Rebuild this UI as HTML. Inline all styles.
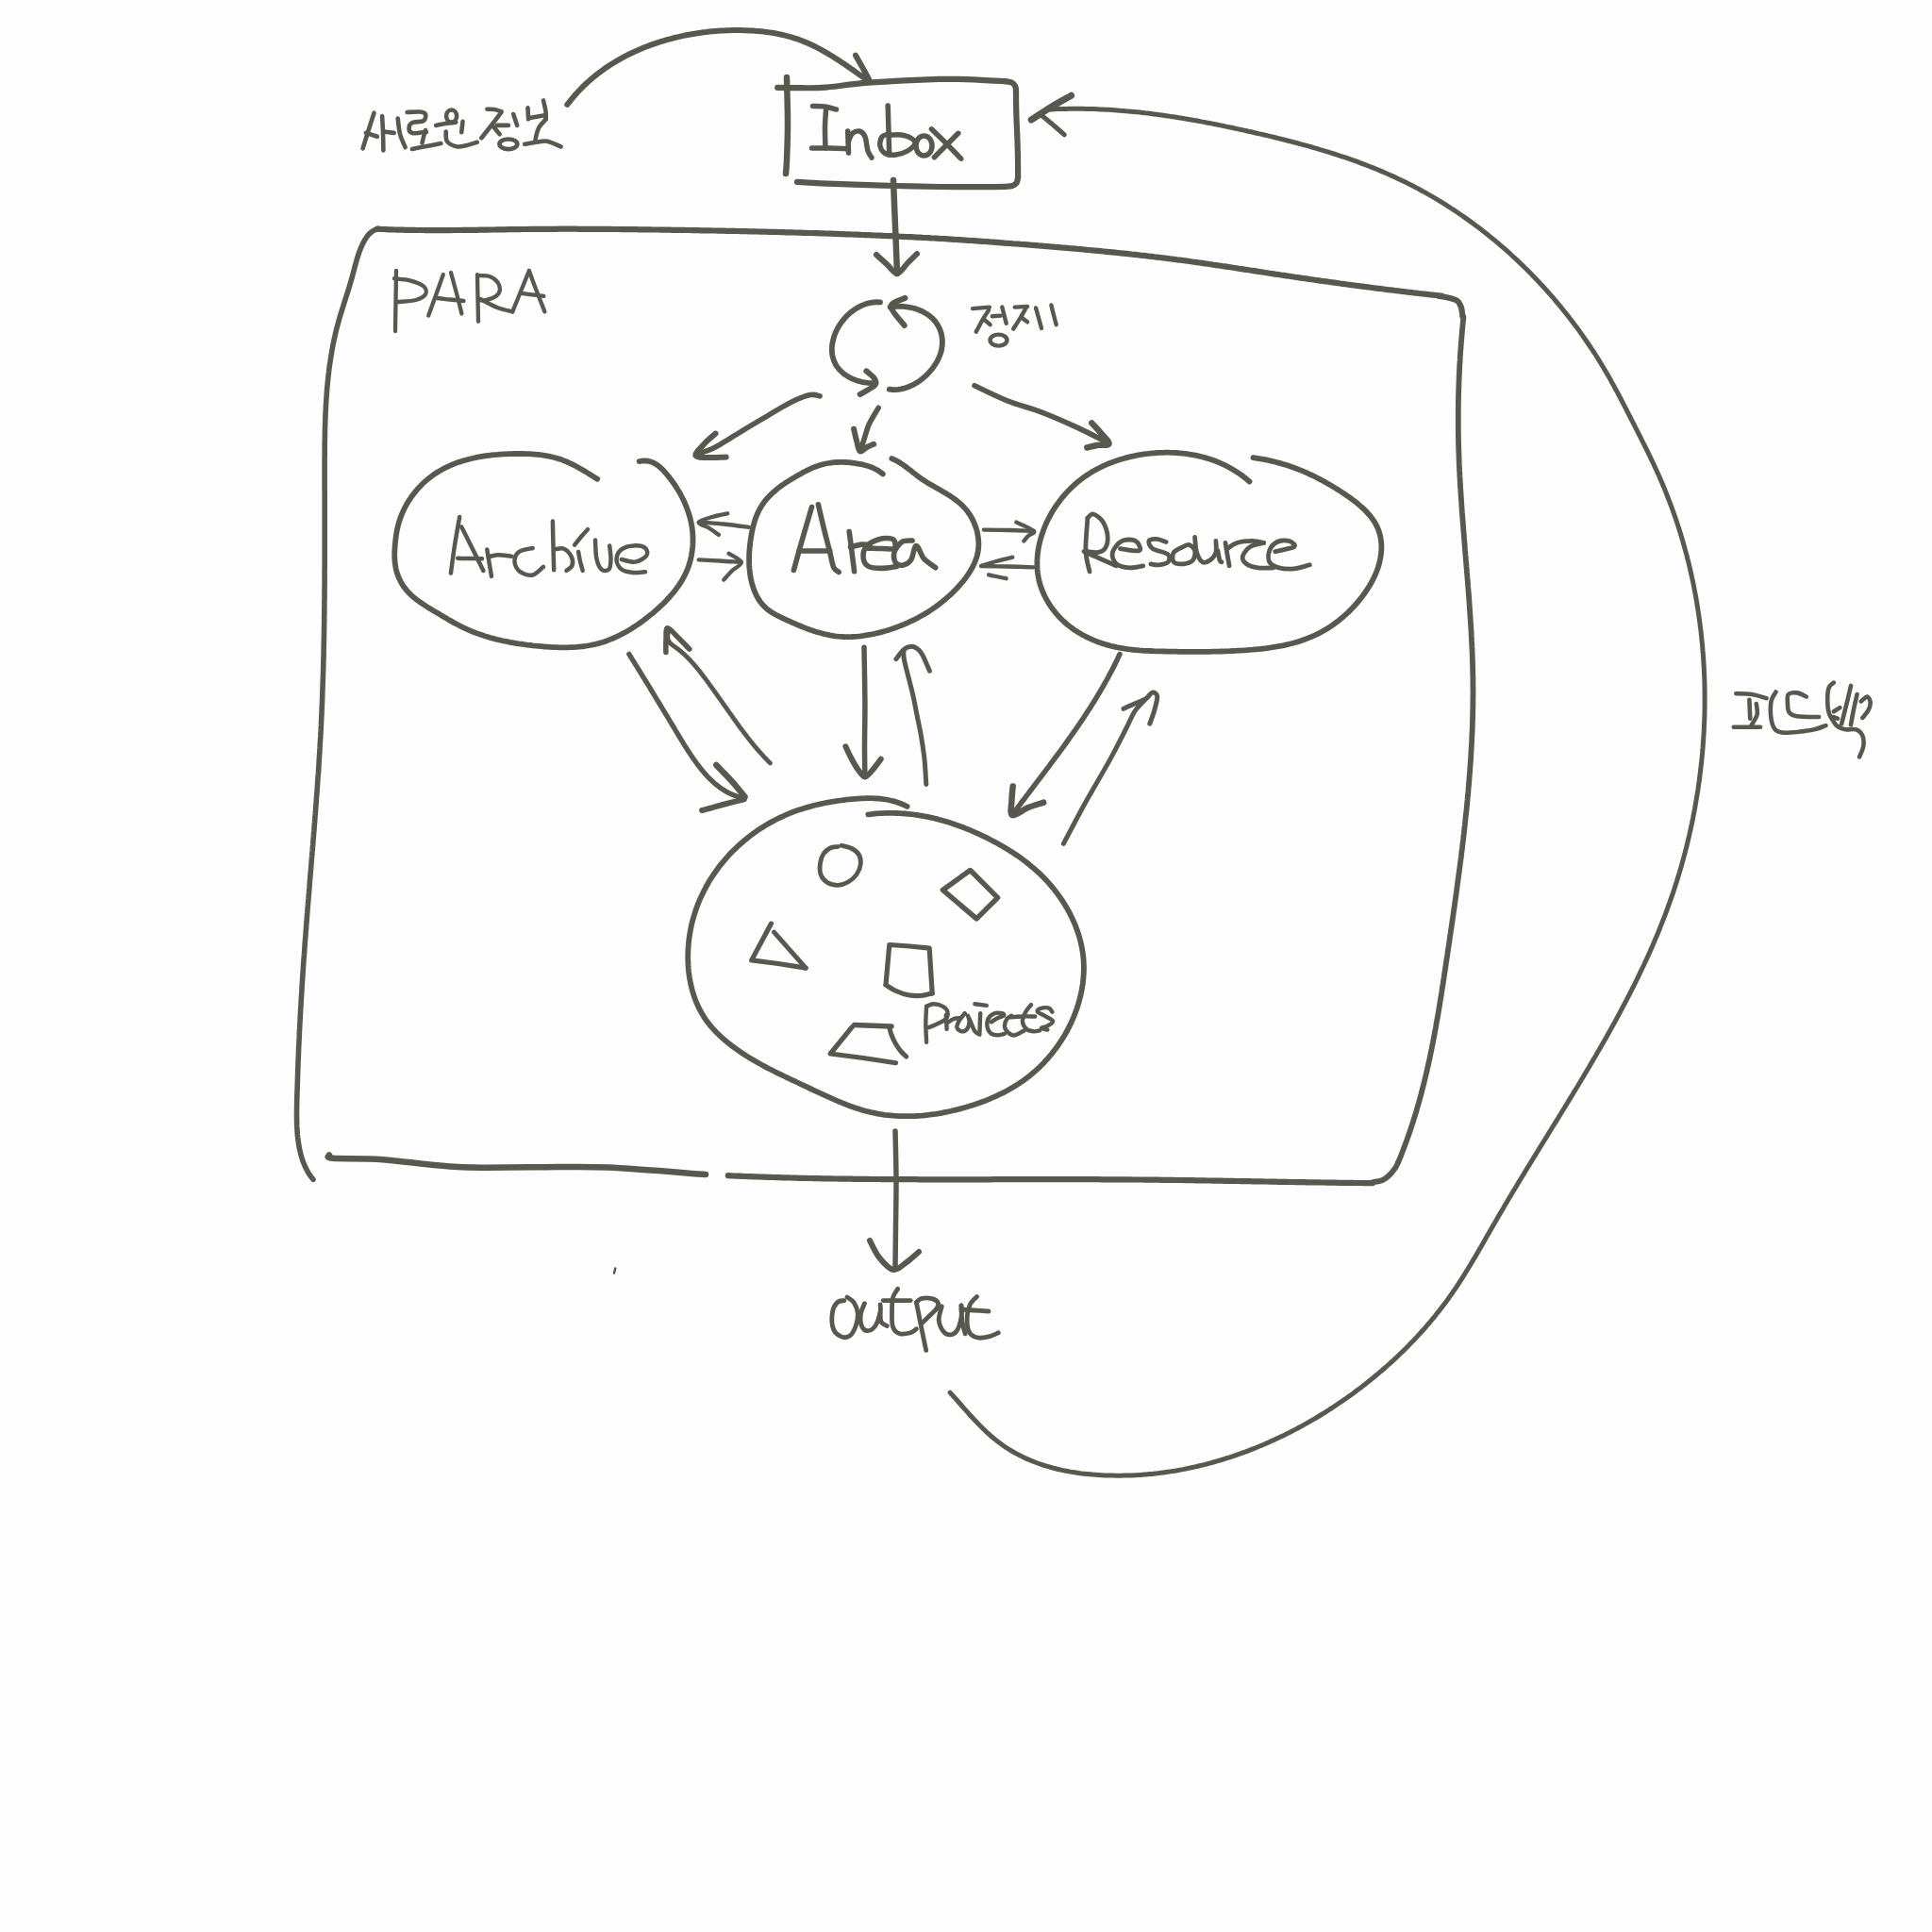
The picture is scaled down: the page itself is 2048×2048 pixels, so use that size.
<!DOCTYPE html>
<html><head><meta charset="utf-8"><title>PARA sketch</title>
<style>
html,body{margin:0;padding:0;background:#fdfdfd;width:2048px;height:2048px;overflow:hidden;font-family:"Liberation Sans",sans-serif;}
svg{display:block;position:absolute;left:0;top:0;}
</style></head>
<body>
<svg width="2048" height="2048" viewBox="0 0 2048 2048">
<g fill="none" stroke="#58584f" stroke-linecap="round" stroke-linejoin="round">
<path d="M824.2,92.9C828.5,93.0 841.4,93.2 850.0,93.2C858.6,93.2 863.9,93.5 875.6,92.6C887.3,91.7 900.5,89.2 920.4,87.7C940.3,86.2 975.0,84.4 994.9,83.9C1014.8,83.4 1028.2,84.4 1040.0,84.8C1051.8,85.2 1061.7,86.0 1066.0,86.2" stroke-width="6.2"/>
<path d="M1066.0,86.2C1067.1,86.4 1070.8,86.7 1072.5,87.5C1074.2,88.3 1075.2,89.6 1076.0,91.0C1076.8,92.4 1076.8,95.2 1077.0,96.0" stroke-width="6.2"/>
<path d="M1077.0,96.0C1077.0,100.0 1077.1,111.4 1077.3,119.8C1077.5,128.2 1078.1,138.1 1078.4,146.5C1078.7,154.9 1078.9,163.1 1079.0,170.0C1079.1,176.9 1079.1,185.0 1079.1,188.0" stroke-width="6.2"/>
<path d="M1079.1,188.0C1078.8,189.0 1078.5,192.5 1077.5,194.0C1076.5,195.5 1074.9,196.4 1073.0,197.0C1071.1,197.6 1067.2,197.7 1066.0,197.8" stroke-width="6.2"/>
<path d="M1066.0,197.8C1060.0,197.9 1041.8,198.2 1030.0,198.2C1018.1,198.2 1008.2,198.2 994.9,198.0C981.6,197.8 964.9,197.4 950.0,197.0C935.1,196.6 918.7,196.1 905.4,195.7C892.1,195.2 880.1,194.8 870.0,194.3C859.9,193.8 849.2,193.1 845.0,192.8" stroke-width="6.2"/>
<path d="M834.0,82.0C834.2,90.3 835.0,117.3 835.0,132.0C835.0,146.7 834.3,161.3 834.0,170.0C833.7,178.7 833.2,181.7 833.0,184.0" stroke-width="6.5"/>
<path d="M861.5,112.5C863.6,112.6 869.8,112.4 874.0,113.0C878.2,113.6 884.4,115.5 886.5,116.0" stroke-width="5.5"/>
<path d="M875.5,117.0C875.3,120.0 874.6,128.3 874.5,135.0C874.4,141.7 874.9,153.3 875.0,157.0" stroke-width="5.5"/>
<path d="M860.5,157.0C863.8,157.0 873.6,156.9 880.0,157.0C886.4,157.1 895.8,157.6 899.0,157.7" stroke-width="5.5"/>
<path d="M898.7,139.0L899.5,162.0" stroke-width="5.5"/>
<path d="M899.5,150.0C900.1,148.7 901.1,143.8 903.0,142.0C904.9,140.2 908.7,138.5 911.0,139.0C913.3,139.5 915.5,141.5 917.0,145.0C918.5,148.5 918.8,156.3 920.0,160.0C921.2,163.7 923.3,165.8 924.0,167.0" stroke-width="5.5"/>
<path d="M941.2,112.0C941.3,116.7 941.8,131.3 942.0,140.0C942.2,148.7 942.6,160.0 942.7,164.0" stroke-width="5.5"/>
<path d="M943.0,142.0C941.7,142.5 936.7,142.8 935.0,145.0C933.3,147.2 932.3,152.0 933.0,155.0C933.7,158.0 936.2,161.5 939.0,163.0C941.8,164.5 946.2,164.5 950.0,164.0C953.8,163.5 958.7,162.0 962.0,160.0C965.3,158.0 969.5,154.3 970.0,152.0C970.5,149.7 967.5,147.5 965.0,146.0C962.5,144.5 958.3,143.5 955.0,143.0C951.7,142.5 946.7,143.0 945.0,143.0" stroke-width="5.5"/>
<path d="M987.4,136.8C990.0,139.3 997.8,146.8 1003.0,152.0C1008.2,157.2 1016.1,165.5 1018.7,168.2" stroke-width="5.5"/>
<path d="M1015.8,141.3C1013.7,143.4 1007.2,149.8 1003.0,154.0C998.8,158.2 992.5,164.6 990.4,166.7" stroke-width="5.5"/>
<path d="M601.3,110.9L603.2,108.5L605.1,106.1L607.0,103.8L608.9,101.5L610.9,99.2L613.0,97.0L615.1,94.8L617.2,92.6L619.3,90.5L621.5,88.5L623.7,86.4L626.0,84.4L628.3,82.5L630.6,80.6L633.0,78.7L635.4,76.9L637.8,75.1L640.2,73.3L642.7,71.6L645.2,69.9L647.7,68.3L650.3,66.7L652.9,65.1L655.5,63.6L658.1,62.1L660.8,60.6L663.5,59.2L666.2,57.8L668.9,56.5L671.7,55.2L674.5,53.9L677.3,52.7L680.1,51.5L682.9,50.3L685.8,49.2L688.6,48.1L691.5,47.1L694.4,46.1L697.3,45.1L700.3,44.2L703.2,43.3L706.2,42.4L709.1,41.6L712.1,40.8L715.1,40.0L718.1,39.3L721.1,38.6L724.2,37.9L727.2,37.3L730.2,36.7L733.3,36.2L736.3,35.7L739.4,35.2L742.5,34.8L745.5,34.3L748.6,34.0L751.7,33.6L754.7,33.3L757.8,33.0L760.9,32.8L764.0,32.6L767.0,32.4L770.1,32.3L773.2,32.2L776.2,32.1L779.3,32.1L782.4,32.1L785.4,32.1L788.5,32.2L791.5,32.3L794.5,32.4L797.6,32.5L800.6,32.8L803.6,33.0L806.6,33.3L809.6,33.6L812.6,34.0L815.5,34.4L818.5,34.8L821.4,35.3L824.4,35.9L827.3,36.5L830.2,37.2L833.1,37.9L836.0,38.6L838.9,39.4L841.7,40.3L844.5,41.2L847.4,42.2L850.2,43.3L852.9,44.4L855.7,45.5L858.5,46.8L861.2,48.0L863.9,49.3L866.6,50.7L869.3,52.1L872.0,53.6L874.6,55.1L877.3,56.6L879.9,58.2L882.5,59.8L885.1,61.5L887.7,63.1L890.3,64.8L892.9,66.6L895.5,68.3L898.0,70.0L900.6,71.8L903.1,73.6L905.6,75.3L908.2,77.1L910.7,78.9L913.2,80.6L915.7,82.4L918.3,84.1L920.8,85.8" stroke-width="6"/>
<path d="M907.0,58.7C908.2,60.8 911.6,66.8 914.0,71.0C916.4,75.2 919.9,82.0 921.1,84.2" stroke-width="6"/>
<path d="M947.0,191.0C947.3,199.2 948.3,223.5 949.0,240.0C949.7,256.5 950.7,281.7 951.0,290.0" stroke-width="6.5"/>
<path d="M929.0,270.0C930.8,271.7 936.3,276.7 940.0,280.0C943.7,283.3 947.3,290.2 951.0,290.0C954.7,289.8 958.5,282.5 962.0,279.0C965.5,275.5 970.3,270.7 972.0,269.0" stroke-width="6"/>
<path d="M400.0,242.7L403.0,242.9L406.0,243.0L409.0,243.1L412.0,243.3L415.1,243.4L418.1,243.5L421.1,243.6L424.1,243.6L427.1,243.7L430.1,243.8L433.1,243.8L436.1,243.9L439.2,243.9L442.2,244.0L445.2,244.0L448.2,244.0L451.2,244.1L454.2,244.1L457.2,244.1L460.2,244.1L463.2,244.1L466.3,244.1L469.3,244.1L472.3,244.1L475.3,244.1L478.3,244.1L481.3,244.0L484.3,244.0L487.3,244.0L490.3,243.9L493.3,243.9L496.4,243.9L499.4,243.8L502.4,243.8L505.4,243.8L508.4,243.7L511.4,243.7L514.4,243.6L517.4,243.6L520.4,243.5L523.4,243.5L526.4,243.4L529.5,243.4L532.5,243.3L535.5,243.3L538.5,243.2L541.5,243.2L544.5,243.1L547.5,243.1L550.5,243.1L553.5,243.0L556.5,243.0L559.5,243.0L562.5,242.9L565.6,242.9L568.6,242.9L571.6,242.8L574.6,242.8L577.6,242.8L580.6,242.8L583.6,242.8L586.6,242.8L589.6,242.8L592.6,242.7L595.6,242.7L598.6,242.7L601.6,242.7L604.7,242.7L607.7,242.7L610.7,242.7L613.7,242.8L616.7,242.8L619.7,242.8L622.7,242.8L625.7,242.8L628.7,242.8L631.7,242.8L634.7,242.8L637.7,242.9L640.8,242.9L643.8,242.9L646.8,242.9L649.8,243.0L652.8,243.0L655.8,243.0L658.8,243.1L661.8,243.1L664.8,243.1L667.8,243.1L670.8,243.2L673.9,243.2L676.9,243.3L679.9,243.3L682.9,243.3L685.9,243.4L688.9,243.4L691.9,243.5L694.9,243.5L697.9,243.5L700.9,243.6L704.0,243.6L707.0,243.7L710.0,243.7L713.0,243.8L716.0,243.8L719.0,243.9L722.0,243.9L725.0,243.9L728.0,244.0L731.1,244.0L734.1,244.1L737.1,244.1L740.1,244.2L743.1,244.3L746.1,244.3L749.1,244.4L752.1,244.4L755.1,244.5L758.2,244.5L761.2,244.6L764.2,244.6L767.2,244.7L770.2,244.8L773.2,244.8L776.2,244.9L779.2,244.9L782.3,245.0L785.3,245.1L788.3,245.1L791.3,245.2L794.3,245.3L797.3,245.3L800.3,245.4L803.3,245.5L806.4,245.6L809.4,245.6L812.4,245.7L815.4,245.8L818.4,245.9L821.4,245.9L824.4,246.0L827.4,246.1L830.4,246.2L833.5,246.3L836.5,246.3L839.5,246.4L842.5,246.5L845.5,246.6L848.5,246.7L851.5,246.8L854.5,246.9L857.5,247.0L860.6,247.0L863.6,247.1L866.6,247.2L869.6,247.3L872.6,247.4L875.6,247.5L878.6,247.6L881.6,247.7L884.6,247.8L887.7,247.9L890.7,248.1L893.7,248.2L896.7,248.3L899.7,248.4L902.7,248.5L905.7,248.6L908.7,248.7L911.7,248.8L914.7,249.0L917.7,249.1L920.7,249.2L923.8,249.3L926.8,249.5L929.8,249.6L932.8,249.7L935.8,249.8L938.8,250.0L941.8,250.1L944.8,250.2L947.8,250.4L950.8,250.5L953.8,250.7L956.8,250.8L959.8,251.0L962.8,251.1L965.8,251.2L968.8,251.4L971.8,251.6L974.9,251.7L977.9,251.9L980.9,252.0L983.9,252.2L986.9,252.4L989.9,252.5L992.9,252.7L995.9,252.9L998.9,253.0L1001.9,253.2L1004.9,253.4L1007.9,253.6L1010.9,253.8L1013.9,254.0L1016.9,254.2L1019.9,254.4L1022.9,254.6L1025.9,254.8L1028.9,255.0L1031.9,255.2L1034.9,255.4L1037.9,255.6L1040.9,255.8L1043.9,256.0L1046.9,256.2L1049.9,256.5L1052.9,256.7L1055.9,256.9L1058.9,257.1L1061.9,257.3L1064.9,257.6L1067.9,257.8L1070.9,258.0L1073.9,258.3L1076.9,258.5L1079.9,258.7L1082.9,259.0L1085.9,259.2L1088.9,259.4L1091.9,259.7L1094.9,259.9L1097.9,260.1L1100.9,260.4L1103.9,260.6L1106.9,260.9L1109.9,261.1L1112.9,261.4L1115.9,261.6L1118.9,261.9L1121.9,262.1L1124.9,262.4L1127.9,262.6L1130.9,262.9L1133.9,263.2L1136.9,263.4L1139.9,263.7L1142.9,264.0L1145.9,264.2L1148.9,264.5L1151.9,264.8L1154.9,265.0L1157.9,265.3L1160.9,265.6L1163.9,265.9L1166.9,266.2L1169.9,266.5L1172.9,266.8L1175.9,267.1L1178.9,267.4L1181.9,267.7L1184.9,268.0L1187.9,268.3L1190.9,268.6L1193.9,268.9L1196.9,269.2L1199.9,269.6L1202.9,269.9L1205.9,270.2L1208.9,270.6L1211.8,270.9L1214.8,271.2L1217.8,271.6L1220.8,271.9L1223.8,272.3L1226.8,272.6L1229.8,273.0L1232.8,273.4L1235.8,273.7L1238.8,274.1L1241.7,274.5L1244.7,274.9L1247.7,275.3L1250.7,275.6L1253.7,276.0L1256.7,276.4L1259.6,276.8L1262.6,277.3L1265.6,277.7L1268.6,278.1L1271.6,278.5L1274.5,278.9L1277.5,279.4L1280.5,279.8L1283.5,280.2L1286.5,280.7L1289.4,281.1L1292.4,281.5L1295.4,282.0L1298.4,282.4L1301.3,282.9L1304.3,283.3L1307.3,283.8L1310.3,284.2L1313.3,284.7L1316.2,285.1L1319.2,285.6L1322.2,286.0L1325.2,286.5L1328.1,286.9L1331.1,287.4L1334.1,287.9L1337.1,288.3L1340.0,288.8L1343.0,289.2L1346.0,289.7L1349.0,290.1L1351.9,290.6L1354.9,291.0L1357.9,291.5L1360.9,291.9L1363.8,292.4L1366.8,292.8L1369.8,293.2L1372.8,293.7L1375.8,294.1L1378.7,294.6L1381.7,295.0L1384.7,295.4L1387.7,295.9L1390.6,296.3L1393.6,296.7L1396.6,297.1L1399.6,297.6L1402.6,298.0L1405.6,298.4L1408.5,298.8L1411.5,299.2L1414.5,299.6L1417.5,300.0L1420.5,300.5L1423.4,300.9L1426.4,301.3L1429.4,301.7L1432.4,302.1L1435.4,302.5L1438.4,302.9L1441.4,303.2L1444.3,303.6L1447.3,304.0L1450.3,304.4L1453.3,304.8L1456.3,305.2L1459.3,305.6L1462.3,305.9L1465.2,306.3L1468.2,306.7L1471.2,307.1L1474.2,307.4L1477.2,307.8L1480.2,308.2L1483.2,308.5L1486.2,308.9L1489.2,309.2L1492.2,309.6L1495.1,309.9L1498.1,310.3L1501.1,310.6L1504.1,311.0L1507.1,311.3L1510.1,311.7L1513.1,312.0L1516.1,312.4L1519.1,312.7L1522.1,313.0L1525.1,313.4L1528.1,313.7" stroke-width="6.2"/>
<path d="M1525.0,313.7C1527.0,314.1 1533.7,315.1 1537.0,316.0C1540.3,316.9 1543.0,317.3 1545.0,319.0C1547.0,320.7 1548.1,323.2 1549.0,326.0C1549.9,328.8 1550.2,334.3 1550.5,336.0" stroke-width="6.2"/>
<path d="M1551.4,336.0L1551.1,339.0L1550.8,342.0L1550.5,345.0L1550.2,348.0L1549.9,351.1L1549.7,354.1L1549.4,357.1L1549.2,360.1L1548.9,363.1L1548.7,366.1L1548.5,369.1L1548.2,372.2L1548.0,375.2L1547.8,378.2L1547.7,381.2L1547.5,384.2L1547.3,387.2L1547.1,390.2L1547.0,393.3L1546.9,396.3L1546.7,399.3L1546.6,402.3L1546.5,405.3L1546.4,408.3L1546.3,411.3L1546.2,414.4L1546.1,417.4L1546.0,420.4L1546.0,423.4L1545.9,426.4L1545.9,429.4L1545.8,432.4L1545.8,435.5L1545.8,438.5L1545.8,441.5L1545.8,444.5L1545.8,447.5L1545.8,450.5L1545.8,453.5L1545.8,456.5L1545.9,459.6L1545.9,462.6L1546.0,465.6L1546.0,468.6L1546.1,471.6L1546.2,474.6L1546.3,477.6L1546.4,480.6L1546.5,483.7L1546.6,486.7L1546.7,489.7L1546.8,492.7L1547.0,495.7L1547.1,498.7L1547.3,501.7L1547.4,504.7L1547.6,507.7L1547.8,510.8L1547.9,513.8L1548.1,516.8L1548.3,519.8L1548.5,522.8L1548.7,525.8L1548.9,528.8L1549.1,531.8L1549.3,534.8L1549.5,537.8L1549.7,540.8L1549.9,543.8L1550.2,546.9L1550.4,549.9L1550.6,552.9L1550.9,555.9L1551.1,558.9L1551.3,561.9L1551.6,564.9L1551.8,567.9L1552.1,570.9L1552.3,573.9L1552.6,576.9L1552.8,579.9L1553.0,583.0L1553.3,586.0L1553.5,589.0L1553.8,592.0L1554.0,595.0L1554.3,598.0L1554.5,601.0L1554.8,604.0L1555.0,607.0L1555.3,610.0L1555.5,613.0L1555.8,616.0L1556.0,619.0L1556.2,622.0L1556.5,625.0L1556.7,628.1L1556.9,631.1L1557.2,634.1L1557.4,637.1L1557.6,640.1L1557.8,643.1L1558.0,646.1L1558.2,649.1L1558.4,652.1L1558.6,655.1L1558.8,658.1L1559.0,661.1L1559.2,664.1L1559.4,667.1L1559.6,670.2L1559.7,673.2L1559.9,676.2L1560.0,679.2L1560.2,682.2L1560.3,685.2L1560.5,688.2L1560.6,691.2L1560.7,694.2L1560.8,697.2L1560.9,700.2L1561.0,703.2L1561.1,706.2L1561.2,709.3L1561.2,712.3L1561.3,715.3L1561.4,718.3L1561.4,721.3L1561.4,724.3L1561.4,727.3L1561.5,730.3L1561.5,733.3L1561.5,736.3L1561.4,739.3L1561.4,742.4L1561.4,745.4L1561.3,748.4L1561.3,751.4L1561.2,754.4L1561.2,757.4L1561.1,760.4L1561.0,763.4L1560.9,766.4L1560.8,769.4L1560.7,772.5L1560.6,775.5L1560.4,778.5L1560.3,781.5L1560.2,784.5L1560.0,787.5L1559.9,790.5L1559.7,793.5L1559.5,796.5L1559.3,799.5L1559.2,802.6L1559.0,805.6L1558.8,808.6L1558.5,811.6L1558.3,814.6L1558.1,817.6L1557.9,820.6L1557.6,823.6L1557.4,826.6L1557.2,829.6L1556.9,832.6L1556.6,835.7L1556.4,838.7L1556.1,841.7L1555.8,844.7L1555.6,847.7L1555.3,850.7L1555.0,853.7L1554.7,856.7L1554.4,859.7L1554.1,862.7L1553.7,865.7L1553.4,868.7L1553.1,871.7L1552.8,874.8L1552.4,877.8L1552.1,880.8L1551.8,883.8L1551.4,886.8L1551.1,889.8L1550.7,892.8L1550.3,895.8L1550.0,898.8L1549.6,901.8L1549.2,904.8L1548.9,907.8L1548.5,910.8L1548.1,913.8L1547.7,916.8L1547.3,919.8L1546.9,922.8L1546.5,925.8L1546.1,928.8L1545.7,931.8L1545.3,934.8L1544.9,937.8L1544.5,940.8L1544.1,943.8L1543.7,946.8L1543.3,949.8L1542.9,952.8L1542.4,955.8L1542.0,958.8L1541.6,961.8L1541.2,964.8L1540.7,967.8L1540.3,970.8L1539.9,973.8L1539.4,976.8L1539.0,979.8L1538.6,982.8L1538.1,985.7L1537.7,988.7L1537.2,991.7L1536.8,994.7L1536.4,997.7L1535.9,1000.7L1535.5,1003.7L1535.0,1006.7L1534.6,1009.7L1534.2,1012.7L1533.7,1015.6L1533.3,1018.6L1532.8,1021.6L1532.4,1024.6L1531.9,1027.6L1531.5,1030.6L1531.0,1033.5L1530.6,1036.5L1530.1,1039.5L1529.7,1042.5L1529.2,1045.5L1528.7,1048.4L1528.3,1051.4L1527.8,1054.4L1527.3,1057.4L1526.8,1060.3L1526.4,1063.3L1525.9,1066.3L1525.4,1069.3L1524.9,1072.2L1524.4,1075.2L1523.9,1078.2L1523.3,1081.1L1522.8,1084.1L1522.3,1087.0L1521.8,1090.0L1521.2,1093.0L1520.7,1095.9L1520.1,1098.9L1519.5,1101.8L1519.0,1104.8L1518.4,1107.7L1517.8,1110.7L1517.2,1113.6L1516.6,1116.5L1516.0,1119.5L1515.4,1122.4L1514.7,1125.4L1514.1,1128.3L1513.4,1131.2L1512.8,1134.2L1512.1,1137.1L1511.4,1140.0L1510.7,1142.9L1510.0,1145.9L1509.3,1148.8L1508.5,1151.7L1507.8,1154.6L1507.0,1157.5L1506.3,1160.4L1505.5,1163.3L1504.7,1166.2L1503.9,1169.1L1503.0,1172.0L1502.2,1174.9L1501.4,1177.8L1500.5,1180.7L1499.6,1183.6L1498.7,1186.5L1497.8,1189.4L1496.9,1192.2L1495.9,1195.1L1495.0,1198.0L1494.0,1200.9L1493.0,1203.7L1492.0,1206.6L1491.0,1209.4L1489.9,1212.3L1488.9,1215.1L1487.8,1218.0L1486.7,1220.8L1485.6,1223.7L1484.5,1226.5L1483.3,1229.4L1482.2,1232.2" stroke-width="5.8"/>
<path d="M1482.0,1232.0C1481.5,1233.1 1480.5,1236.1 1478.8,1238.5C1477.1,1240.9 1474.3,1244.4 1472.0,1246.5C1469.7,1248.6 1467.7,1250.2 1464.9,1251.3C1462.1,1252.4 1456.7,1252.9 1455.0,1253.2" stroke-width="5.8"/>
<path d="M1455.0,1254.2L1452.0,1254.1L1449.0,1254.1L1445.9,1254.1L1442.9,1254.0L1439.9,1254.0L1436.9,1254.0L1433.9,1253.9L1430.8,1253.9L1427.8,1253.9L1424.8,1253.8L1421.8,1253.8L1418.8,1253.8L1415.7,1253.7L1412.7,1253.7L1409.7,1253.6L1406.7,1253.6L1403.7,1253.5L1400.6,1253.5L1397.6,1253.4L1394.6,1253.4L1391.6,1253.4L1388.6,1253.3L1385.5,1253.3L1382.5,1253.2L1379.5,1253.2L1376.5,1253.1L1373.4,1253.1L1370.4,1253.0L1367.4,1253.0L1364.4,1252.9L1361.4,1252.9L1358.3,1252.8L1355.3,1252.8L1352.3,1252.7L1349.3,1252.6L1346.3,1252.6L1343.2,1252.5L1340.2,1252.5L1337.2,1252.4L1334.2,1252.4L1331.1,1252.3L1328.1,1252.3L1325.1,1252.2L1322.1,1252.2L1319.1,1252.1L1316.0,1252.1L1313.0,1252.0L1310.0,1252.0L1307.0,1251.9L1303.9,1251.9L1300.9,1251.8L1297.9,1251.8L1294.9,1251.7L1291.9,1251.7L1288.8,1251.6L1285.8,1251.6L1282.8,1251.5L1279.8,1251.5L1276.7,1251.4L1273.7,1251.4L1270.7,1251.3L1267.7,1251.3L1264.7,1251.2L1261.6,1251.2L1258.6,1251.1L1255.6,1251.1L1252.6,1251.0L1249.5,1251.0L1246.5,1251.0L1243.5,1250.9L1240.5,1250.9L1237.5,1250.8L1234.4,1250.8L1231.4,1250.8L1228.4,1250.7L1225.4,1250.7L1222.3,1250.7L1219.3,1250.6L1216.3,1250.6L1213.3,1250.6L1210.2,1250.5L1207.2,1250.5L1204.2,1250.5L1201.2,1250.5L1198.1,1250.4L1195.1,1250.4L1192.1,1250.4L1189.1,1250.4L1186.1,1250.3L1183.0,1250.3L1180.0,1250.3L1177.0,1250.3L1174.0,1250.3L1170.9,1250.3L1167.9,1250.3L1164.9,1250.2L1161.9,1250.2L1158.8,1250.2L1155.8,1250.2L1152.8,1250.2L1149.8,1250.2L1146.7,1250.2L1143.7,1250.2L1140.7,1250.2L1137.7,1250.2L1134.6,1250.2L1131.6,1250.2L1128.6,1250.2L1125.6,1250.2L1122.5,1250.2L1119.5,1250.2L1116.5,1250.2L1113.5,1250.2L1110.5,1250.2L1107.4,1250.2L1104.4,1250.2L1101.4,1250.2L1098.4,1250.2L1095.3,1250.2L1092.3,1250.2L1089.3,1250.2L1086.3,1250.2L1083.2,1250.2L1080.2,1250.2L1077.2,1250.2L1074.2,1250.2L1071.1,1250.2L1068.1,1250.2L1065.1,1250.2L1062.1,1250.2L1059.0,1250.2L1056.0,1250.2L1053.0,1250.2L1050.0,1250.3L1046.9,1250.3L1043.9,1250.3L1040.9,1250.3L1037.9,1250.3L1034.8,1250.3L1031.8,1250.3L1028.8,1250.3L1025.8,1250.3L1022.7,1250.3L1019.7,1250.3L1016.7,1250.3L1013.7,1250.3L1010.6,1250.3L1007.6,1250.3L1004.6,1250.3L1001.6,1250.3L998.6,1250.3L995.5,1250.3L992.5,1250.3L989.5,1250.3L986.5,1250.3L983.4,1250.3L980.4,1250.3L977.4,1250.3L974.4,1250.3L971.3,1250.2L968.3,1250.2L965.3,1250.2L962.3,1250.2L959.2,1250.2L956.2,1250.2L953.2,1250.2L950.2,1250.2L947.1,1250.1L944.1,1250.1L941.1,1250.1L938.1,1250.1L935.0,1250.1L932.0,1250.0L929.0,1250.0L926.0,1250.0L923.0,1250.0L919.9,1249.9L916.9,1249.9L913.9,1249.9L910.9,1249.8L907.8,1249.8L904.8,1249.8L901.8,1249.7L898.8,1249.7L895.7,1249.7L892.7,1249.6L889.7,1249.6L886.7,1249.5L883.6,1249.5L880.6,1249.4L877.6,1249.4L874.6,1249.3L871.6,1249.3L868.5,1249.2L865.5,1249.1L862.5,1249.1L859.5,1249.0L856.4,1249.0L853.4,1248.9L850.4,1248.8L847.4,1248.8L844.3,1248.7L841.3,1248.6L838.3,1248.5L835.3,1248.4L832.3,1248.4L829.2,1248.3L826.2,1248.2L823.2,1248.1L820.2,1248.0L817.1,1247.9L814.1,1247.8L811.1,1247.7L808.1,1247.6L805.0,1247.5L802.0,1247.4L799.0,1247.3L796.0,1247.2L793.0,1247.1L789.9,1247.0L786.9,1246.8L783.9,1246.7L780.9,1246.6L777.9,1246.5L774.8,1246.3L771.8,1246.2" stroke-width="6.2"/>
<path d="M401.3,242.4L398.3,243.3L395.5,244.7L393.1,246.4L391.0,248.3L389.2,250.6L387.5,253.0L386.0,255.6L384.6,258.2L383.4,260.9L382.2,263.6L381.1,266.4L380.1,269.2L379.2,272.1L378.3,275.0L377.5,277.9L376.7,280.8L375.9,283.8L375.1,286.7L374.3,289.7L373.6,292.6L372.7,295.6L371.9,298.5L371.0,301.4L370.2,304.3L369.3,307.2L368.4,310.1L367.4,313.0L366.5,315.9L365.6,318.8L364.7,321.7L363.8,324.5L362.9,327.4L362.0,330.3L361.1,333.2L360.2,336.1L359.4,339.0L358.6,341.9L357.8,344.8L357.0,347.7L356.3,350.6L355.6,353.5L355.0,356.4L354.3,359.3L353.7,362.3L353.1,365.2L352.5,368.1L352.0,371.1L351.5,374.0L351.0,377.0L350.5,379.9L350.1,382.9L349.6,385.9L349.2,388.8L348.8,391.8L348.5,394.8L348.1,397.8L347.8,400.8L347.5,403.7L347.2,406.7L346.9,409.7L346.6,412.7L346.4,415.7L346.2,418.7L346.0,421.7L345.8,424.7L345.6,427.8L345.4,430.8L345.3,433.8L345.1,436.8L345.0,439.8L344.9,442.8L344.8,445.9L344.7,448.9L344.6,451.9L344.5,454.9L344.4,458.0L344.4,461.0L344.3,464.0L344.3,467.1L344.2,470.1L344.2,473.1L344.2,476.2L344.2,479.2L344.2,482.2L344.1,485.3L344.1,488.3L344.1,491.3L344.1,494.4L344.1,497.4L344.1,500.4L344.1,503.5L344.1,506.5L344.1,509.5L344.1,512.6L344.1,515.6L344.1,518.6L344.2,521.6L344.2,524.7L344.2,527.7L344.2,530.7L344.2,533.8L344.2,536.8L344.2,539.8L344.2,542.8L344.2,545.9L344.2,548.9L344.2,551.9L344.2,554.9L344.2,558.0L344.2,561.0L344.2,564.0L344.2,567.0L344.2,570.0L344.2,573.1L344.2,576.1L344.2,579.1L344.2,582.1L344.2,585.1L344.2,588.2L344.2,591.2L344.2,594.2L344.2,597.2L344.2,600.2L344.1,603.2L344.1,606.3L344.1,609.3L344.1,612.3L344.1,615.3L344.1,618.3L344.1,621.3L344.0,624.4L344.0,627.4L344.0,630.4L344.0,633.4L343.9,636.4L343.9,639.4L343.9,642.4L343.8,645.5L343.8,648.5L343.8,651.5L343.7,654.5L343.7,657.5L343.7,660.5L343.6,663.5L343.6,666.5L343.5,669.5L343.5,672.6L343.4,675.6L343.4,678.6L343.3,681.6L343.2,684.6L343.2,687.6L343.1,690.6L343.1,693.6L343.0,696.6L342.9,699.6L342.8,702.7L342.8,705.7L342.7,708.7L342.6,711.7L342.5,714.7L342.4,717.7L342.3,720.7L342.2,723.7L342.1,726.7L342.0,729.7L341.9,732.7L341.8,735.8L341.7,738.8L341.6,741.8L341.5,744.8L341.3,747.8L341.2,750.8L341.1,753.8L341.0,756.8L340.8,759.8L340.7,762.8L340.5,765.8L340.4,768.9L340.2,771.9L340.1,774.9L339.9,777.9L339.8,780.9L339.6,783.9L339.4,786.9L339.2,789.9L339.1,792.9L338.9,795.9L338.7,799.0L338.5,802.0L338.3,805.0L338.1,808.0L338.0,811.0L337.8,814.0L337.6,817.0L337.4,820.0L337.1,823.0L336.9,826.0L336.7,829.1L336.5,832.1L336.3,835.1L336.1,838.1L335.9,841.1L335.6,844.1L335.4,847.1L335.2,850.1L335.0,853.1L334.7,856.2L334.5,859.2L334.3,862.2L334.0,865.2L333.8,868.2L333.6,871.2L333.3,874.2L333.1,877.2L332.9,880.2L332.6,883.2L332.4,886.3L332.1,889.3L331.9,892.3L331.7,895.3L331.4,898.3L331.2,901.3L330.9,904.3L330.7,907.3L330.4,910.3L330.2,913.4L329.9,916.4L329.7,919.4L329.4,922.4L329.2,925.4L328.9,928.4L328.7,931.4L328.4,934.4L328.2,937.4L328.0,940.4L327.7,943.5L327.5,946.5L327.2,949.5L327.0,952.5L326.7,955.5L326.5,958.5L326.2,961.5L326.0,964.5L325.8,967.5L325.5,970.5L325.3,973.6L325.1,976.6L324.8,979.6L324.6,982.6L324.4,985.6L324.1,988.6L323.9,991.6L323.7,994.6L323.4,997.6L323.2,1000.6L323.0,1003.6L322.8,1006.6L322.6,1009.7L322.4,1012.7L322.1,1015.7L321.9,1018.7L321.7,1021.7L321.5,1024.7L321.3,1027.7L321.1,1030.7L320.9,1033.7L320.7,1036.7L320.5,1039.7L320.3,1042.7L320.1,1045.7L320.0,1048.8L319.8,1051.8L319.6,1054.8L319.4,1057.8L319.2,1060.8L319.1,1063.8L318.9,1066.8L318.7,1069.8L318.5,1072.8L318.4,1075.8L318.2,1078.8L318.1,1081.8L317.9,1084.9L317.7,1087.9L317.6,1090.9L317.4,1093.9L317.3,1096.9L317.2,1099.9L317.0,1102.9L316.9,1105.9L316.7,1108.9L316.6,1111.9L316.5,1115.0L316.4,1118.0L316.2,1121.0L316.1,1124.0L316.0,1127.0L315.9,1130.0L315.8,1133.0L315.7,1136.1L315.6,1139.1L315.5,1142.1L315.4,1145.1L315.3,1148.1L315.2,1151.1L315.1,1154.2L315.0,1157.2L314.9,1160.2L314.8,1163.2L314.7,1166.2L314.7,1169.3L314.6,1172.3L314.6,1175.3L314.5,1178.3L314.5,1181.3L314.5,1184.4L314.6,1187.4L314.6,1190.4L314.7,1193.4L314.9,1196.4L315.1,1199.5L315.3,1202.5L315.6,1205.5L316.0,1208.5L316.4,1211.5L316.9,1214.5L317.4,1217.5L318.1,1220.4L318.8,1223.4L319.6,1226.3L320.5,1229.2L321.5,1232.0L322.7,1234.8L323.9,1237.6L325.2,1240.2L326.7,1242.9L328.3,1245.4L330.1,1247.9L332.0,1250.3" stroke-width="5.6"/>
<path d="M349.0,1224.4C349.7,1225.0 343.5,1227.0 353.0,1227.8C362.5,1228.6 383.9,1227.7 406.0,1229.2C428.1,1230.8 459.0,1235.8 485.5,1237.1C512.0,1238.4 538.5,1237.2 565.0,1237.3C591.5,1237.4 614.1,1236.2 644.6,1237.5C675.1,1238.8 730.8,1243.8 748.0,1245.0" stroke-width="6.5"/>
<path d="M420.0,287.0C419.9,292.5 419.7,309.3 419.5,320.0C419.3,330.7 419.1,345.9 419.0,351.1" stroke-width="4.3"/>
<path d="M418.0,295.2C420.8,295.6 429.4,295.9 434.6,297.3C439.8,298.7 446.4,301.1 449.1,303.5C451.9,305.9 452.5,309.4 451.1,311.8C449.7,314.2 445.6,316.6 440.8,318.0C436.0,319.4 425.3,319.7 422.2,320.0" stroke-width="4.3"/>
<path d="M454.2,334.6C455.5,331.0 459.4,320.2 462.0,313.0C464.6,305.8 468.5,294.8 469.8,291.1" stroke-width="4.3"/>
<path d="M478.0,289.0C479.0,292.7 482.1,303.8 484.0,311.0C485.9,318.2 488.5,328.9 489.4,332.5" stroke-width="4.3"/>
<path d="M463.6,316.0C465.8,316.2 472.4,317.0 477.0,317.5C481.6,318.0 489.1,318.8 491.5,319.0" stroke-width="4.3"/>
<path d="M506.0,291.1C506.1,295.2 506.3,307.7 506.5,316.0C506.7,324.3 506.9,336.7 507.0,340.8" stroke-width="4.3"/>
<path d="M507.0,292.1C509.1,292.3 516.0,292.0 519.5,293.2C523.0,294.4 526.0,297.0 527.7,299.4C529.4,301.8 530.1,305.3 529.8,307.7C529.5,310.1 528.1,312.2 525.7,313.9C523.3,315.6 518.4,317.3 515.3,318.0C512.2,318.7 508.4,318.0 507.0,318.0" stroke-width="4.3"/>
<path d="M509.1,317.0C512.2,318.6 522.0,324.1 527.7,326.3C533.4,328.5 540.7,329.7 543.3,330.4" stroke-width="4.3"/>
<path d="M543.3,330.4C544.8,326.8 549.1,316.2 552.0,309.0C554.9,301.8 559.4,290.7 560.9,287.0" stroke-width="4.3"/>
<path d="M560.9,287.0C562.2,290.7 566.2,301.8 569.0,309.0C571.8,316.2 576.0,326.8 577.4,330.4" stroke-width="4.3"/>
<path d="M552.6,310.8C554.5,311.1 560.0,311.8 564.0,312.3C568.0,312.8 574.3,313.6 576.4,313.9" stroke-width="4.3"/>
<path d="M396.5,119.7C395.4,123.1 392.0,133.7 390.0,140.0C388.0,146.3 385.5,154.5 384.6,157.4" stroke-width="4.6"/>
<path d="M387.9,140.9L399.8,144.8" stroke-width="4.6"/>
<path d="M405.1,123.0C405.2,125.8 405.8,133.9 406.0,140.0C406.2,146.1 406.3,156.2 406.4,159.4" stroke-width="4.6"/>
<path d="M406.4,139.5L417.7,140.9" stroke-width="4.6"/>
<path d="M421.7,125.6C422.1,128.3 422.7,136.9 424.0,142.0C425.3,147.1 428.7,153.8 429.6,156.1" stroke-width="4.6"/>
<path d="M431.6,119.0C433.8,118.9 441.8,118.2 445.0,118.5C448.2,118.8 450.3,119.4 451.0,121.0C451.7,122.6 451.3,126.5 449.0,128.0C446.7,129.5 439.6,128.7 437.0,130.0C434.4,131.3 433.5,134.2 433.5,136.0C433.5,137.8 433.9,140.3 437.0,141.0C440.1,141.7 449.5,140.2 452.0,140.0" stroke-width="4.6"/>
<path d="M451.0,138.0C450.7,139.2 449.6,142.8 449.0,145.0C448.4,147.2 447.8,150.4 447.5,151.5" stroke-width="4.6"/>
<path d="M436.9,158.0C439.4,157.5 446.9,156.0 452.0,155.0C457.1,154.0 464.8,152.6 467.4,152.1" stroke-width="4.6"/>
<path d="M462.1,132.9C463.8,132.6 468.5,131.6 472.0,131.0C475.5,130.4 481.4,129.8 483.3,129.6" stroke-width="4.6"/>
<path d="M490.5,128.9L489.2,140.2" stroke-width="4.6"/>
<path d="M472.7,139.5C472.9,141.2 472.0,147.3 474.0,150.0C476.0,152.7 481.1,154.7 484.6,155.4C488.1,156.1 491.5,154.8 495.0,154.0C498.5,153.2 504.0,151.3 505.8,150.8" stroke-width="4.6"/>
<path d="M516.4,115.7C517.7,115.8 521.5,115.6 524.0,116.0C526.5,116.4 530.3,117.9 531.6,118.3" stroke-width="4.6"/>
<path d="M531.0,119.7C529.2,122.1 523.4,129.6 520.0,134.0C516.6,138.4 512.0,144.2 510.4,146.2" stroke-width="4.6"/>
<path d="M523.0,134.2L529.7,142.2" stroke-width="4.6"/>
<path d="M527.0,132.9L538.9,132.9" stroke-width="4.6"/>
<path d="M544.2,121.0L548.2,132.9" stroke-width="4.6"/>
<path d="M559.5,114.4L560.1,126.3" stroke-width="4.6"/>
<path d="M576.0,106.4C576.4,108.3 578.0,114.7 578.5,118.0C579.0,121.3 578.7,124.9 578.7,126.3" stroke-width="4.6"/>
<path d="M561.5,125.0L577.4,122.3" stroke-width="4.6"/>
<path d="M578.7,126.3C577.6,127.6 573.5,131.7 572.0,134.0C570.5,136.3 570.2,137.5 569.4,140.0C568.6,142.5 567.7,147.3 567.4,148.8" stroke-width="4.6"/>
<path d="M556.2,152.8C558.5,152.4 566.0,151.0 570.0,150.5C574.0,150.0 575.9,149.0 580.0,149.8C584.1,150.6 592.2,154.5 594.6,155.4" stroke-width="4.6"/>
<path d="M933.0,320.3L929.6,320.2L926.3,320.5L923.1,320.9L919.9,321.6L916.9,322.6L913.9,323.7L911.0,325.1L908.2,326.6L905.5,328.4L902.9,330.3L900.4,332.3L898.0,334.5L895.8,336.9L893.8,339.3L891.8,341.8L890.0,344.5L888.4,347.2L886.9,350.0L885.6,352.8L884.5,355.7L883.6,358.6L882.9,361.5L882.3,364.4L882.0,367.3L881.8,370.2L881.9,373.0L882.2,375.8L882.8,378.6L883.6,381.2L884.6,383.8L885.8,386.3L887.3,388.6L889.0,390.9L891.0,393.0L893.1,395.0L895.4,396.9L898.0,398.6L900.7,400.2L903.5,401.6L906.6,402.8L909.8,403.9L913.2,404.8L916.6,405.4L920.3,405.9L924.0,406.2L927.9,406.2" stroke-width="5.8"/>
<path d="M918.4,393.4C919.8,394.6 925.1,398.4 926.6,400.9C928.1,403.4 929.9,405.5 927.4,408.4C924.9,411.2 914.3,416.4 911.7,418.0" stroke-width="6"/>
<path d="M959.4,315.9C956.9,317.4 944.6,320.0 944.5,324.9C944.4,329.8 956.3,341.6 958.7,345.0" stroke-width="6"/>
<path d="M943.6,325.5L947.2,325.0L950.8,324.8L954.3,324.7L957.8,324.9L961.2,325.3L964.5,325.8L967.7,326.5L970.9,327.4L973.9,328.5L976.8,329.7L979.6,331.1L982.2,332.7L984.7,334.4L987.0,336.2L989.1,338.2L991.0,340.3L992.7,342.6L994.2,344.9L995.5,347.4L996.6,349.9L997.5,352.6L998.2,355.3L998.6,358.0L998.9,360.8L998.9,363.7L998.7,366.5L998.3,369.4L997.7,372.3L996.8,375.2L995.7,378.0L994.5,380.9L993.0,383.7L991.3,386.4L989.5,389.1L987.6,391.7L985.4,394.2L983.2,396.6L980.8,398.9L978.3,401.0L975.7,403.1L973.0,404.9L970.2,406.6L967.3,408.2L964.3,409.5L961.3,410.7L958.3,411.6L955.2,412.3L952.1,412.8L949.0,413.1L945.9,413.0L942.7,412.7" stroke-width="5.8"/>
<path d="M1031.0,327.1L1048.9,325.6" stroke-width="4.4"/>
<path d="M1048.1,328.6C1046.9,330.5 1043.2,336.1 1041.0,340.0C1038.8,343.9 1035.8,349.8 1034.7,351.7" stroke-width="4.4"/>
<path d="M1042.9,338.3L1049.6,344.2" stroke-width="4.4"/>
<path d="M1051.8,335.3L1060.8,334.6" stroke-width="4.4"/>
<path d="M1062.3,325.6L1066.7,342.8" stroke-width="4.4"/>
<path d="M1075.7,325.6L1089.1,324.9" stroke-width="4.4"/>
<path d="M1087.6,326.4C1086.5,328.3 1083.2,334.3 1081.0,338.0C1078.8,341.7 1075.3,346.9 1074.2,348.7" stroke-width="4.4"/>
<path d="M1083.1,336.8L1089.1,341.3" stroke-width="4.4"/>
<path d="M1098.0,326.4C1098.5,328.2 1100.0,333.4 1101.0,337.0C1102.0,340.6 1103.5,346.2 1104.0,348.0" stroke-width="4.4"/>
<path d="M1114.4,323.4C1114.8,325.2 1116.1,330.5 1117.0,334.0C1117.9,337.5 1119.2,342.5 1119.7,344.2" stroke-width="4.4"/>
<path d="M869.1,419.9C867.4,419.7 864.1,417.6 859.1,418.6C854.1,419.6 848.0,421.8 839.3,426.1C830.6,430.5 816.5,439.1 807.0,444.7C797.5,450.3 790.4,454.6 782.1,459.6C773.8,464.6 763.5,471.2 757.3,474.5C751.1,477.8 747.9,478.2 744.8,479.5C741.7,480.8 739.5,482.0 738.5,482.5" stroke-width="5.6"/>
<path d="M758.5,459.6C756.6,461.3 750.5,466.1 747.0,470.0C743.5,473.9 736.4,480.5 737.4,483.0C738.4,485.5 747.6,484.8 753.0,485.0C758.4,485.2 766.9,484.6 769.7,484.5" stroke-width="6"/>
<path d="M931.2,432.3C929.5,435.2 923.7,444.3 921.2,449.7C918.7,455.1 917.8,460.1 916.3,464.6C914.8,469.2 913.1,474.9 912.5,477.0" stroke-width="5.6"/>
<path d="M905.1,454.7C905.6,456.8 906.9,463.1 908.0,467.0C909.1,470.9 909.7,477.1 911.5,478.3C913.3,479.5 916.5,475.2 919.0,474.0C921.5,472.8 925.0,471.3 926.2,470.8" stroke-width="6"/>
<path d="M1033.0,408.7C1038.8,411.4 1055.8,420.0 1067.8,424.8C1079.8,429.6 1092.7,432.5 1105.1,437.3C1117.5,442.1 1130.8,448.0 1142.4,453.4C1154.0,458.8 1169.3,466.9 1174.7,469.6" stroke-width="5.6"/>
<path d="M1157.3,448.4C1158.9,450.2 1164.0,455.3 1167.0,459.0C1170.0,462.7 1176.2,468.3 1175.5,470.5C1174.8,472.7 1166.9,471.3 1163.0,472.0C1159.1,472.7 1154.1,474.1 1152.3,474.5" stroke-width="6.5"/>
<path d="M633.2,507.8L630.6,506.2L628.1,504.6L625.5,503.0L622.9,501.4L620.3,499.8L617.7,498.2L615.1,496.7L612.4,495.2L609.7,493.8L607.0,492.4L604.3,491.1L601.6,489.8L598.8,488.7L596.0,487.6L593.2,486.6L590.3,485.8L587.5,485.0L584.6,484.3L581.7,483.6L578.8,483.1L575.8,482.6L572.9,482.2L569.9,481.9L566.9,481.6L563.9,481.4L560.9,481.2L557.9,481.1L554.8,481.0L551.8,481.0L548.8,481.0L545.7,481.0L542.6,481.1L539.6,481.1L536.5,481.3L533.4,481.4L530.4,481.6L527.3,481.9L524.3,482.1L521.2,482.4L518.2,482.8L515.1,483.2L512.1,483.7L509.1,484.2L506.1,484.7L503.2,485.3L500.2,486.0L497.3,486.7L494.4,487.5L491.5,488.3L488.6,489.2L485.8,490.1L483.0,491.1L480.2,492.2L477.5,493.4L474.8,494.6L472.1,495.9L469.5,497.2L466.9,498.7L464.3,500.2L461.8,501.8L459.4,503.4L457.0,505.2L454.6,507.0L452.3,508.9L450.0,510.9L447.8,513.0L445.7,515.2L443.6,517.4L441.5,519.7L439.6,522.1L437.7,524.5L435.9,527.0L434.2,529.6L432.5,532.2L430.9,534.8L429.5,537.5L428.1,540.3L426.8,543.1L425.6,545.9L424.5,548.7L423.6,551.6L422.7,554.4L421.9,557.3L421.2,560.3L420.6,563.2L420.1,566.2L419.7,569.2L419.3,572.2L419.0,575.2L418.7,578.3L418.5,581.3L418.3,584.4L418.2,587.5L418.3,590.6L418.4,593.6L418.7,596.7L419.1,599.6L419.6,602.6L420.3,605.5L421.2,608.3L422.2,611.1L423.4,613.8L424.7,616.4L426.2,618.9L427.7,621.4L429.5,623.8L431.3,626.1L433.3,628.3L435.4,630.4L437.6,632.4L439.9,634.3L442.3,636.2L444.8,638.0L447.3,639.7L449.9,641.4L452.5,643.1L455.1,644.7L457.8,646.3L460.5,647.9L463.1,649.5L465.8,651.1L468.4,652.7L471.1,654.3L473.7,655.8L476.4,657.4L479.1,658.9L481.7,660.4L484.4,661.8L487.1,663.2L489.8,664.6L492.5,665.9L495.2,667.1L498.0,668.3L500.7,669.5L503.5,670.6L506.2,671.6L509.0,672.6L511.9,673.6L514.7,674.5L517.5,675.3L520.4,676.2L523.2,676.9L526.1,677.7L529.0,678.4L531.9,679.0L534.8,679.7L537.8,680.2L540.7,680.8L543.7,681.3L546.6,681.8L549.6,682.3L552.6,682.7L555.6,683.2L558.6,683.6L561.7,683.9L564.7,684.3L567.8,684.6L570.8,684.9L573.9,685.2L577.0,685.5L580.0,685.7L583.1,685.9L586.2,686.1L589.3,686.2L592.4,686.3L595.4,686.4L598.5,686.4L601.6,686.3L604.6,686.2L607.7,686.1L610.7,685.9L613.7,685.6L616.7,685.3L619.7,685.0L622.7,684.5L625.6,684.0L628.6,683.4L631.4,682.8L634.3,682.1L637.2,681.3L640.0,680.4L642.8,679.4L645.5,678.4L648.3,677.3L651.0,676.2L653.7,674.9L656.4,673.7L659.0,672.3L661.6,670.9L664.2,669.5L666.8,667.9L669.4,666.4L671.9,664.7L674.4,663.1L677.0,661.4L679.4,659.6L681.9,657.8L684.4,655.9L686.8,654.0L689.2,652.1L691.6,650.2L694.0,648.2L696.3,646.1L698.7,644.0L700.9,641.9L703.2,639.8L705.4,637.6L707.5,635.3L709.6,633.0L711.6,630.7L713.6,628.4L715.5,626.0L717.3,623.6L719.1,621.1L720.8,618.6L722.4,616.1L723.9,613.5L725.3,610.9L726.6,608.2L727.9,605.5L729.0,602.8L730.0,600.0L730.9,597.2L731.7,594.3L732.4,591.5L733.0,588.6L733.5,585.6L733.9,582.7L734.2,579.7L734.4,576.7L734.5,573.8L734.5,570.8L734.4,567.8L734.2,564.8L733.9,561.8L733.5,558.8L733.0,555.8L732.4,552.8L731.7,549.8L730.9,546.9L730.0,544.0L729.0,541.1L728.0,538.2L726.8,535.3L725.6,532.5L724.3,529.7L722.9,527.0L721.5,524.2L720.0,521.5L718.4,518.9L716.8,516.3L715.1,513.7L713.3,511.2L711.5,508.7L709.6,506.2L707.7,503.9L705.7,501.5L703.7,499.3L701.6,497.1L699.5,495.1L697.2,493.3L694.8,491.8L692.3,490.4L689.7,489.4L686.9,488.7L684.0,488.4L680.9,488.5L677.6,489.1" stroke-width="5.8"/>
<path d="M487.2,548.0C486.3,553.0 483.6,568.1 482.0,578.0C480.4,587.9 478.6,602.7 477.9,607.6" stroke-width="4.5"/>
<path d="M489.2,558.5C491.0,562.1 496.1,572.2 500.0,580.0C503.9,587.8 510.3,600.8 512.4,605.0" stroke-width="4.5"/>
<path d="M485.2,591.7C487.3,591.8 493.7,591.9 498.0,592.0C502.3,592.1 508.8,592.2 511.0,592.3" stroke-width="4.5"/>
<path d="M516.3,582.4C516.7,584.7 517.7,591.2 518.5,596.0C519.3,600.8 520.6,608.4 521.0,610.9" stroke-width="4.5"/>
<path d="M517.7,590.3C519.4,590.0 523.5,588.4 527.6,588.3C531.7,588.2 539.8,589.5 542.2,589.7" stroke-width="4.5"/>
<path d="M564.7,581.0C562.3,581.7 553.3,582.6 550.1,585.0C546.9,587.4 545.3,592.1 545.5,595.6C545.7,599.1 548.3,603.9 551.5,606.2C554.7,608.5 560.6,610.4 564.7,609.5C568.8,608.6 574.1,602.3 576.0,600.9" stroke-width="4.5"/>
<path d="M585.9,552.6C586.0,557.2 586.3,571.4 586.5,580.0C586.7,588.6 587.1,600.2 587.2,604.2" stroke-width="4.5"/>
<path d="M587.9,582.4C589.5,582.3 594.8,580.4 597.8,581.7C600.8,583.0 604.4,587.3 605.8,590.3C607.2,593.3 607.3,597.2 606.4,599.6C605.5,602.0 601.5,604.0 600.5,604.9" stroke-width="4.5"/>
<path d="M613.1,585.0C613.4,586.7 614.2,591.7 615.0,595.0C615.8,598.3 617.2,603.2 617.7,604.9" stroke-width="4.5"/>
<path d="M609.1,577.7C610.2,576.2 613.7,571.8 616.0,569.0C618.3,566.2 621.8,562.5 623.0,561.2" stroke-width="4.5"/>
<path d="M631.0,572.4C631.2,575.6 631.2,586.5 632.3,591.7C633.4,596.9 635.4,601.6 637.6,603.6C639.8,605.6 643.9,605.4 645.5,603.6C647.1,601.8 647.4,597.2 647.5,593.0C647.6,588.8 646.4,580.8 646.2,578.4" stroke-width="4.5"/>
<path d="M658.8,593.0C661.2,593.4 669.0,596.3 673.4,595.6C677.8,594.9 683.5,591.4 685.3,589.0C687.1,586.6 686.2,582.8 684.0,581.0C681.8,579.2 676.2,578.2 672.0,578.4C667.8,578.6 661.9,580.0 658.8,582.4C655.7,584.8 653.5,589.5 653.5,593.0C653.5,596.5 655.9,601.3 658.8,603.6C661.7,605.9 666.5,606.5 670.7,606.9C674.9,607.3 681.8,606.3 684.0,606.2" stroke-width="4.5"/>
<path d="M793.7,558.9C789.2,558.3 775.8,556.4 767.0,555.5C758.2,554.6 745.1,553.9 740.7,553.6" stroke-width="4.3"/>
<path d="M771.2,544.3C768.5,544.9 760.1,546.5 755.0,548.0C749.9,549.5 741.2,551.6 740.7,553.6C740.2,555.6 748.5,557.8 752.0,560.0C755.5,562.2 760.2,565.8 761.9,566.9" stroke-width="4.3"/>
<path d="M740.7,593.4C744.4,593.6 755.5,594.1 763.0,594.5C770.5,594.9 782.0,595.8 785.8,596.0" stroke-width="4.3"/>
<path d="M772.5,586.7C774.7,588.2 785.2,593.0 785.8,596.0C786.4,599.0 779.1,601.9 776.0,605.0C772.9,608.1 768.7,613.0 767.2,614.6" stroke-width="4.3"/>
<path d="M935.8,502.4L933.4,500.6L931.0,498.9L928.4,497.5L925.7,496.2L923.0,495.0L920.1,494.1L917.2,493.2L914.3,492.4L911.3,491.8L908.2,491.3L905.2,490.8L902.2,490.5L899.1,490.2L896.1,490.0L893.1,489.9L890.0,489.9L887.0,490.0L884.0,490.2L881.0,490.6L878.1,491.0L875.2,491.5L872.3,492.2L869.4,493.0L866.6,493.9L863.8,494.9L861.0,496.0L858.3,497.3L855.6,498.6L852.9,500.0L850.2,501.4L847.6,502.9L844.9,504.4L842.3,506.0L839.7,507.5L837.1,509.1L834.5,510.7L832.0,512.4L829.4,514.1L827.0,515.9L824.5,517.8L822.2,519.7L819.9,521.7L817.6,523.8L815.5,525.9L813.4,528.1L811.5,530.4L809.6,532.8L807.9,535.3L806.4,537.8L804.9,540.4L803.6,543.0L802.4,545.7L801.3,548.5L800.3,551.3L799.5,554.2L798.7,557.0L797.9,560.0L797.3,562.9L796.7,565.9L796.2,568.9L795.7,571.9L795.3,574.9L795.0,578.0L794.6,581.0L794.4,584.0L794.2,587.1L794.1,590.1L794.1,593.1L794.1,596.2L794.2,599.2L794.4,602.2L794.7,605.2L795.1,608.3L795.5,611.3L796.1,614.2L796.8,617.2L797.6,620.2L798.5,623.1L799.5,625.9L800.7,628.7L801.9,631.4L803.4,634.0L804.9,636.5L806.6,638.9L808.5,641.1L810.5,643.2L812.6,645.2L814.9,647.0L817.4,648.7L819.9,650.2L822.5,651.7L825.2,653.1L828.0,654.5L830.8,655.8L833.6,657.1L836.4,658.4L839.2,659.7L842.1,660.9L844.9,662.2L847.7,663.3L850.6,664.5L853.5,665.6L856.3,666.7L859.2,667.8L862.1,668.7L865.0,669.7L867.9,670.5L870.8,671.3L873.8,672.1L876.7,672.7L879.6,673.3L882.6,673.8L885.5,674.3L888.5,674.6L891.4,674.8L894.4,675.0L897.4,675.1L900.3,675.1L903.3,675.0L906.3,674.8L909.3,674.6L912.2,674.3L915.2,673.9L918.2,673.4L921.1,672.9L924.1,672.4L927.0,671.8L930.0,671.1L932.9,670.4L935.8,669.6L938.7,668.8L941.6,667.9L944.5,667.0L947.4,666.0L950.2,665.0L953.1,663.9L955.9,662.8L958.7,661.7L961.5,660.5L964.2,659.2L967.0,657.9L969.7,656.6L972.4,655.2L975.0,653.8L977.7,652.3L980.3,650.8L982.9,649.2L985.4,647.6L988.0,645.9L990.5,644.2L992.9,642.4L995.4,640.6L997.8,638.7L1000.1,636.8L1002.4,634.9L1004.7,632.9L1007.0,630.9L1009.2,628.8L1011.4,626.6L1013.5,624.5L1015.6,622.2L1017.6,620.0L1019.6,617.7L1021.6,615.3L1023.4,612.9L1025.2,610.4L1026.9,607.9L1028.5,605.4L1030.0,602.8L1031.4,600.2L1032.7,597.5L1033.8,594.8L1034.8,592.1L1035.7,589.3L1036.4,586.4L1036.9,583.5L1037.2,580.6L1037.4,577.6L1037.3,574.6L1037.1,571.6L1036.7,568.6L1036.2,565.5L1035.5,562.5L1034.6,559.5L1033.5,556.6L1032.4,553.7L1031.0,550.9L1029.6,548.2L1028.0,545.6L1026.2,543.0L1024.4,540.6L1022.4,538.4L1020.4,536.2L1018.2,534.2L1016.0,532.2L1013.7,530.4L1011.3,528.6L1008.8,526.9L1006.3,525.2L1003.7,523.6L1001.1,522.1L998.5,520.5L995.9,519.0L993.2,517.5L990.6,516.0L988.0,514.5L985.3,512.9L982.7,511.4L980.2,509.8L977.6,508.1L975.2,506.4L972.7,504.6L970.4,502.8L968.0,500.9L965.7,499.0L963.3,497.2L960.9,495.4L958.5,493.6L956.0,491.9L953.5,490.3L950.9,488.7L948.1,487.4L945.3,486.1" stroke-width="5.8"/>
<path d="M860.5,537.5C858.9,542.9 854.2,558.9 851.0,570.0C847.8,581.1 843.0,598.7 841.4,604.4" stroke-width="5.6"/>
<path d="M867.4,534.8C868.3,538.7 870.8,549.6 872.8,558.0C874.8,566.4 877.9,578.0 879.7,585.3C881.5,592.6 882.2,598.2 883.8,601.7C885.4,605.2 888.3,605.7 889.2,606.5" stroke-width="5.6"/>
<path d="M846.9,584.0C849.6,584.0 857.5,584.0 863.0,584.0C868.5,584.0 876.9,584.0 879.7,584.0" stroke-width="5.6"/>
<path d="M900.2,563.5C900.7,567.1 902.1,578.0 903.0,585.0C903.9,592.0 905.2,602.3 905.6,605.8" stroke-width="5.6"/>
<path d="M901.5,579.9C903.5,579.4 910.4,577.5 913.8,577.1C917.2,576.8 920.6,577.7 922.0,577.8" stroke-width="5.6"/>
<path d="M920.6,581.2C923.0,581.2 930.4,581.5 935.0,581.5C939.6,581.5 946.1,582.8 948.0,581.2C949.9,579.6 949.3,573.3 946.6,571.7C943.9,570.1 936.4,570.3 931.6,571.7C926.8,573.1 920.6,576.5 917.9,579.9C915.2,583.3 914.8,588.8 915.2,592.2C915.7,595.6 917.4,598.7 920.6,600.4C923.8,602.1 929.3,602.4 934.3,602.4C939.3,602.4 948.0,600.7 950.7,600.4" stroke-width="5.6"/>
<path d="M967.1,573.0C965.3,573.2 959.4,572.4 956.2,574.4C953.0,576.4 949.1,581.6 948.0,585.3C946.9,588.9 947.7,594.0 949.3,596.3C950.9,598.6 954.8,599.5 957.5,599.0C960.2,598.5 963.4,596.9 965.7,593.5C968.0,590.1 968.9,578.7 971.2,578.5C973.5,578.3 976.0,588.3 979.4,592.2C982.8,596.1 989.7,600.1 991.7,601.7" stroke-width="5.6"/>
<path d="M1042.8,561.6C1047.3,561.7 1061.2,561.8 1070.0,562.0C1078.8,562.2 1091.5,562.8 1095.8,562.9" stroke-width="4.3"/>
<path d="M1077.3,553.6C1080.4,555.1 1093.7,560.5 1095.8,562.9C1097.9,565.3 1091.8,566.2 1090.0,568.0C1088.2,569.8 1086.0,572.6 1085.2,573.5" stroke-width="4.3"/>
<path d="M1095.8,601.3C1091.2,601.2 1077.3,600.7 1068.0,600.5C1058.7,600.3 1044.8,600.1 1040.2,600.0" stroke-width="4.3"/>
<path d="M1073.3,590.7C1070.4,591.4 1061.5,593.5 1056.0,595.0C1050.5,596.5 1042.8,599.2 1040.2,600.0" stroke-width="4.3"/>
<path d="M1066.7,613.2C1064.9,612.8 1059.1,611.6 1056.0,611.0C1052.9,610.4 1049.4,609.6 1048.1,609.3" stroke-width="4.3"/>
<path d="M1324.5,510.5L1322.1,508.5L1319.8,506.6L1317.4,504.7L1314.9,502.9L1312.4,501.2L1309.9,499.6L1307.3,498.0L1304.7,496.5L1302.1,495.0L1299.5,493.7L1296.8,492.3L1294.0,491.1L1291.3,489.9L1288.5,488.8L1285.7,487.8L1282.9,486.8L1280.0,485.9L1277.1,485.1L1274.3,484.3L1271.3,483.6L1268.4,482.9L1265.5,482.3L1262.5,481.8L1259.5,481.3L1256.5,480.9L1253.5,480.6L1250.5,480.3L1247.5,480.0L1244.5,479.9L1241.5,479.8L1238.4,479.7L1235.4,479.7L1232.4,479.8L1229.3,479.9L1226.3,480.0L1223.3,480.3L1220.2,480.5L1217.2,480.9L1214.2,481.2L1211.2,481.7L1208.2,482.2L1205.2,482.7L1202.2,483.3L1199.3,483.9L1196.3,484.6L1193.4,485.4L1190.5,486.2L1187.6,487.0L1184.7,488.0L1181.9,488.9L1179.1,490.0L1176.3,491.0L1173.5,492.2L1170.8,493.4L1168.0,494.7L1165.4,496.0L1162.7,497.4L1160.1,498.8L1157.5,500.3L1155.0,501.9L1152.5,503.5L1150.0,505.2L1147.6,506.9L1145.2,508.7L1142.9,510.6L1140.6,512.5L1138.3,514.5L1136.1,516.6L1134.0,518.7L1131.9,520.8L1129.8,523.1L1127.8,525.3L1125.9,527.6L1124.0,530.0L1122.2,532.4L1120.4,534.9L1118.7,537.4L1117.0,539.9L1115.4,542.5L1113.9,545.1L1112.5,547.8L1111.1,550.5L1109.7,553.3L1108.5,556.0L1107.3,558.9L1106.2,561.7L1105.2,564.6L1104.2,567.5L1103.3,570.4L1102.5,573.4L1101.8,576.3L1101.2,579.3L1100.6,582.3L1100.2,585.3L1099.8,588.3L1099.6,591.3L1099.4,594.3L1099.4,597.3L1099.4,600.3L1099.6,603.3L1099.9,606.3L1100.3,609.2L1100.8,612.1L1101.4,615.1L1102.1,618.0L1103.0,620.8L1104.0,623.7L1105.0,626.5L1106.2,629.2L1107.5,632.0L1108.9,634.6L1110.4,637.3L1111.9,639.9L1113.6,642.4L1115.3,644.9L1117.2,647.3L1119.1,649.7L1121.0,652.0L1123.1,654.2L1125.2,656.4L1127.4,658.5L1129.6,660.5L1131.9,662.5L1134.3,664.3L1136.7,666.1L1139.1,667.9L1141.7,669.5L1144.2,671.1L1146.8,672.6L1149.5,674.0L1152.1,675.4L1154.9,676.7L1157.6,677.9L1160.4,679.1L1163.2,680.2L1166.1,681.2L1168.9,682.2L1171.8,683.1L1174.7,683.9L1177.7,684.7L1180.6,685.4L1183.6,686.1L1186.6,686.7L1189.5,687.2L1192.5,687.7L1195.5,688.1L1198.5,688.5L1201.5,688.8L1204.5,689.1L1207.6,689.4L1210.6,689.6L1213.6,689.8L1216.6,689.9L1219.6,690.0L1222.6,690.2L1225.6,690.3L1228.7,690.3L1231.7,690.4L1234.7,690.5L1237.7,690.6L1240.7,690.6L1243.7,690.7L1246.6,690.7L1249.6,690.8L1252.6,690.8L1255.6,690.9L1258.6,690.9L1261.6,690.9L1264.6,690.9L1267.6,690.9L1270.5,690.9L1273.5,690.9L1276.5,690.9L1279.5,690.8L1282.5,690.8L1285.5,690.7L1288.5,690.7L1291.5,690.6L1294.5,690.5L1297.5,690.4L1300.5,690.3L1303.5,690.2L1306.6,690.0L1309.6,689.9L1312.6,689.7L1315.7,689.6L1318.7,689.4L1321.7,689.2L1324.8,688.9L1327.8,688.7L1330.9,688.4L1333.9,688.1L1336.9,687.8L1340.0,687.5L1343.0,687.1L1346.0,686.7L1349.0,686.2L1352.0,685.7L1355.0,685.2L1358.0,684.7L1360.9,684.1L1363.9,683.4L1366.8,682.7L1369.7,682.0L1372.6,681.2L1375.5,680.4L1378.3,679.5L1381.1,678.5L1383.9,677.5L1386.7,676.4L1389.5,675.3L1392.2,674.1L1394.9,672.9L1397.5,671.6L1400.2,670.2L1402.8,668.7L1405.4,667.2L1407.9,665.7L1410.4,664.1L1412.9,662.4L1415.3,660.6L1417.7,658.9L1420.0,657.0L1422.4,655.1L1424.6,653.1L1426.9,651.1L1429.1,649.1L1431.3,646.9L1433.4,644.8L1435.5,642.5L1437.5,640.3L1439.5,638.0L1441.4,635.6L1443.3,633.2L1445.2,630.7L1447.0,628.2L1448.7,625.7L1450.4,623.1L1452.0,620.4L1453.6,617.7L1455.1,615.0L1456.4,612.3L1457.7,609.5L1458.9,606.6L1460.0,603.8L1461.0,600.9L1461.9,597.9L1462.6,595.0L1463.2,592.0L1463.7,589.0L1464.1,586.0L1464.3,583.1L1464.4,580.1L1464.3,577.2L1464.1,574.3L1463.7,571.4L1463.2,568.6L1462.5,565.8L1461.7,563.1L1460.7,560.4L1459.5,557.8L1458.2,555.3L1456.7,552.8L1455.1,550.4L1453.3,548.0L1451.4,545.7L1449.4,543.5L1447.4,541.3L1445.2,539.2L1442.9,537.1L1440.6,535.1L1438.2,533.1L1435.7,531.1L1433.2,529.3L1430.7,527.4L1428.1,525.6L1425.5,523.8L1422.9,522.1L1420.3,520.4L1417.7,518.7L1415.1,517.1L1412.4,515.5L1409.8,513.9L1407.2,512.4L1404.6,510.9L1401.9,509.5L1399.3,508.1L1396.6,506.7L1393.9,505.3L1391.3,504.0L1388.6,502.8L1385.9,501.5L1383.2,500.4L1380.4,499.2L1377.7,498.1L1374.9,497.0L1372.2,496.0L1369.4,495.0L1366.6,494.0L1363.8,493.1L1360.9,492.2L1358.1,491.4L1355.2,490.6L1352.3,489.8L1349.4,489.1L1346.5,488.4L1343.5,487.7L1340.5,487.1L1337.5,486.6L1334.5,486.1L1331.5,485.6L1328.4,485.1" stroke-width="5.8"/>
<path d="M1152.9,549.1C1152.6,554.9 1150.6,574.1 1150.9,583.6C1151.2,593.1 1154.3,602.2 1155.0,605.9" stroke-width="4.8"/>
<path d="M1152.9,549.1C1153.9,548.4 1156.3,544.3 1159.0,545.0C1161.7,545.7 1166.7,549.1 1169.2,553.2C1171.7,557.3 1173.9,564.7 1174.2,569.4C1174.5,574.1 1173.1,578.9 1171.2,581.6C1169.3,584.3 1166.8,585.1 1163.1,585.6C1159.4,586.1 1148.6,583.6 1148.9,584.6C1149.2,585.6 1159.3,589.2 1165.1,591.7C1170.8,594.2 1180.4,598.4 1183.4,599.8" stroke-width="4.8"/>
<path d="M1187.4,581.6C1190.8,581.9 1205.0,585.0 1207.7,583.6C1210.4,582.2 1206.8,575.1 1203.7,573.4C1200.7,571.7 1193.5,571.4 1189.4,573.4C1185.3,575.4 1180.3,581.5 1179.3,585.6C1178.3,589.7 1180.4,595.1 1183.4,597.8C1186.5,600.5 1192.9,601.6 1197.6,601.9C1202.3,602.2 1209.4,600.1 1211.8,599.8" stroke-width="4.8"/>
<path d="M1236.1,574.5C1234.4,574.0 1229.0,571.6 1226.0,571.4C1223.0,571.2 1218.6,571.7 1217.9,573.4C1217.2,575.1 1218.5,579.2 1221.9,581.6C1225.3,584.0 1235.4,585.3 1238.1,587.7C1240.8,590.1 1239.8,593.9 1238.1,595.8C1236.4,597.6 1231.0,598.5 1228.0,598.8C1225.0,599.1 1221.2,598.0 1219.9,597.8" stroke-width="4.8"/>
<path d="M1254.4,579.5C1252.7,580.5 1245.9,582.9 1244.2,585.6C1242.5,588.3 1242.5,593.8 1244.2,595.8C1245.9,597.8 1251.0,598.1 1254.4,597.8C1257.8,597.4 1262.5,596.1 1264.5,593.7C1266.5,591.3 1267.3,586.3 1266.6,583.6C1265.9,580.9 1262.5,578.2 1260.5,577.5C1258.5,576.8 1255.4,579.2 1254.4,579.5" stroke-width="4.8"/>
<path d="M1266.6,569.4C1266.9,572.1 1267.2,581.2 1268.6,585.6C1269.9,590.0 1272.3,594.4 1274.7,595.8C1277.1,597.1 1280.4,595.4 1282.8,593.7C1285.2,592.0 1287.9,589.0 1288.9,585.6C1289.9,582.2 1288.9,575.4 1288.9,573.4" stroke-width="4.8"/>
<path d="M1290.9,583.6C1291.2,585.3 1292.2,591.7 1292.9,593.7C1293.6,595.7 1294.7,595.4 1295.0,595.8" stroke-width="4.8"/>
<path d="M1299.0,575.5C1299.3,577.6 1300.3,584.0 1301.0,588.0C1301.7,592.0 1302.8,597.8 1303.1,599.8" stroke-width="4.8"/>
<path d="M1301.0,581.6C1302.7,580.6 1306.8,576.9 1311.2,575.5C1315.6,574.1 1322.7,573.4 1327.4,573.4C1332.1,573.4 1337.6,575.1 1339.6,575.5" stroke-width="4.8"/>
<path d="M1339.6,575.5C1337.2,576.2 1329.1,577.1 1325.4,579.5C1321.7,581.9 1318.0,586.7 1317.3,589.7C1316.6,592.8 1318.6,595.8 1321.3,597.8C1324.0,599.8 1328.8,601.2 1333.5,601.9C1338.2,602.6 1347.0,601.9 1349.7,601.9" stroke-width="4.8"/>
<path d="M1351.8,584.6C1355.2,583.8 1369.6,581.4 1372.0,579.5C1374.4,577.6 1369.0,574.2 1366.0,573.4C1363.0,572.6 1357.2,572.8 1353.8,574.5C1350.4,576.2 1347.0,580.1 1345.7,583.6C1344.4,587.1 1344.0,592.8 1345.7,595.8C1347.4,598.8 1351.4,600.7 1355.8,601.9C1360.2,603.1 1366.6,603.4 1372.0,602.9C1377.4,602.4 1385.6,599.5 1388.3,598.8" stroke-width="4.8"/>
<path d="M666.8,693.4L668.4,696.0L670.0,698.6L671.7,701.2L673.3,703.8L674.9,706.4L676.5,709.0L678.1,711.6L679.7,714.2L681.3,716.8L682.9,719.4L684.5,722.0L686.1,724.6L687.7,727.2L689.3,729.9L690.9,732.5L692.5,735.1L694.1,737.7L695.6,740.3L697.2,742.9L698.8,745.5L700.4,748.1L701.9,750.7L703.5,753.3L705.1,755.9L706.7,758.5L708.3,761.2L709.8,763.8L711.4,766.4L713.0,769.0L714.6,771.7L716.1,774.3L717.7,776.9L719.3,779.6L720.9,782.2L722.5,784.8L724.1,787.4L725.7,790.1L727.4,792.7L729.0,795.3L730.7,797.8L732.4,800.4L734.1,803.0L735.9,805.5L737.7,808.0L739.5,810.5L741.4,812.9L743.3,815.3L745.2,817.7L747.2,820.0L749.2,822.3L751.3,824.5L753.5,826.6L755.7,828.7L758.0,830.7L760.3,832.6L762.7,834.5L765.2,836.2L767.7,837.8L770.3,839.4L773.1,840.8L775.8,842.1L778.7,843.2L781.7,844.3L784.7,845.2L787.9,845.9" stroke-width="5.3"/>
<path d="M759.3,810.9C760.9,812.6 765.5,817.3 769.0,821.0C772.5,824.7 776.6,829.0 780.0,833.0C783.4,837.0 787.9,842.8 789.5,844.7" stroke-width="6.5"/>
<path d="M744.1,859.0C747.8,858.0 758.6,854.9 766.0,853.0C773.4,851.1 784.9,848.3 788.7,847.4" stroke-width="6"/>
<path d="M816.4,808.9L814.2,806.7L812.1,804.5L810.0,802.3L807.9,800.0L805.8,797.7L803.8,795.4L801.8,793.1L799.8,790.7L797.9,788.4L795.9,786.0L794.0,783.6L792.1,781.2L790.3,778.7L788.4,776.3L786.6,773.8L784.7,771.4L782.9,768.9L781.1,766.4L779.3,763.9L777.5,761.4L775.8,758.9L774.0,756.4L772.2,753.9L770.5,751.4L768.7,748.8L766.9,746.3L765.2,743.8L763.4,741.3L761.6,738.8L759.9,736.3L758.1,733.8L756.3,731.3L754.5,728.8L752.7,726.3L750.9,723.8L749.1,721.4L747.3,718.9L745.4,716.5L743.5,714.0L741.6,711.6L739.7,709.3L737.8,706.9L735.8,704.6L733.8,702.3L731.7,700.0L729.6,697.8L727.5,695.7L725.2,693.6L723.0,691.6L720.6,689.6L718.2,687.7L715.7,685.9L713.2,684.1L710.8,682.2L708.9,679.9L707.9,677.0L707.8,673.3L708.8,668.8L707.8,666.3" stroke-width="4.8"/>
<path d="M705.9,691.6C705.9,689.3 705.7,682.3 706.0,678.0C706.3,673.7 705.4,666.1 707.6,665.8C709.8,665.5 715.1,672.3 719.0,676.0C722.9,679.7 728.8,686.0 730.8,688.0" stroke-width="5.5"/>
<path d="M916.0,686.3C916.1,696.1 916.8,727.7 916.9,745.0C917.0,762.3 916.5,776.9 916.5,790.0C916.5,803.1 916.8,817.8 916.9,823.4" stroke-width="5.5"/>
<path d="M896.4,791.3C897.3,793.2 899.9,799.0 902.0,803.0C904.1,807.0 906.5,811.6 909.0,815.0C911.5,818.4 914.1,823.4 916.9,823.4C919.7,823.4 923.2,818.1 926.0,815.0C928.8,811.9 932.5,806.4 933.8,804.7" stroke-width="6"/>
<path d="M981.8,831.4C981.5,827.0 980.9,813.5 980.0,805.0C979.1,796.5 977.8,788.4 976.5,780.6C975.2,772.8 973.5,765.4 972.0,758.0C970.5,750.6 969.8,745.7 967.6,736.1C965.4,726.5 960.3,708.2 958.7,700.5C957.1,692.8 958.1,691.8 958.0,690.0" stroke-width="5"/>
<path d="M949.8,698.7C951.3,696.9 955.7,690.2 958.7,688.0C961.7,685.8 965.1,685.2 967.6,685.4C970.1,685.6 972.2,687.4 974.0,689.0C975.8,690.6 976.4,691.5 978.3,695.2C980.2,698.9 984.2,708.5 985.4,711.2" stroke-width="5"/>
<path d="M1186.9,693.6L1185.6,696.4L1184.3,699.2L1182.9,702.0L1181.6,704.7L1180.2,707.5L1178.8,710.2L1177.4,712.9L1175.9,715.6L1174.5,718.3L1173.0,721.0L1171.5,723.7L1170.0,726.4L1168.5,729.0L1166.9,731.7L1165.4,734.3L1163.8,736.9L1162.2,739.6L1160.6,742.2L1159.0,744.8L1157.4,747.4L1155.8,749.9L1154.1,752.5L1152.4,755.1L1150.8,757.6L1149.1,760.2L1147.4,762.8L1145.7,765.3L1144.0,767.8L1142.2,770.4L1140.5,772.9L1138.7,775.4L1137.0,777.9L1135.2,780.4L1133.4,782.9L1131.7,785.4L1129.9,787.9L1128.1,790.4L1126.3,792.8L1124.5,795.3L1122.6,797.8L1120.8,800.3L1119.0,802.7L1117.2,805.2L1115.3,807.6L1113.5,810.1L1111.7,812.6L1109.8,815.0L1108.0,817.5L1106.1,819.9L1104.3,822.4L1102.4,824.8L1100.6,827.2L1098.7,829.7L1096.9,832.1L1095.0,834.6L1093.2,837.0L1091.3,839.5L1089.5,841.9L1087.6,844.3L1085.8,846.8L1083.9,849.2L1082.1,851.7L1080.2,854.1L1078.4,856.6L1076.6,859.0L1074.8,861.5L1072.9,863.9" stroke-width="5.5"/>
<path d="M1073.7,833.5C1073.5,835.9 1072.6,842.9 1072.5,848.0C1072.4,853.1 1070.1,862.7 1073.0,864.0C1075.9,865.3 1084.5,858.2 1090.0,856.0C1095.5,853.8 1103.5,851.6 1106.2,850.7" stroke-width="6.5"/>
<path d="M1127.4,894.4C1131.2,887.3 1141.7,866.8 1149.9,852.0C1158.1,837.2 1169.1,818.9 1176.4,805.6C1183.7,792.4 1189.2,781.1 1193.6,772.5C1198.0,763.9 1199.6,759.1 1202.9,754.0C1206.2,748.9 1211.7,744.0 1213.5,742.0" stroke-width="5"/>
<path d="M1191.0,751.3C1193.3,750.2 1201.0,746.8 1205.0,745.0C1209.0,743.2 1212.1,742.5 1214.8,740.7C1217.5,738.9 1219.4,734.6 1221.4,734.1C1223.4,733.6 1226.3,735.0 1226.7,738.0C1227.1,741.0 1225.3,747.1 1224.0,752.0C1222.7,756.9 1219.7,764.7 1218.8,767.2" stroke-width="5"/>
<path d="M961.6,854.9L958.8,853.5L956.0,852.3L953.2,851.2L950.4,850.2L947.6,849.4L944.7,848.7L941.9,848.0L939.0,847.5L936.0,847.1L933.1,846.7L930.2,846.5L927.2,846.3L924.2,846.2L921.3,846.2L918.3,846.2L915.3,846.3L912.3,846.4L909.3,846.6L906.2,846.8L903.2,847.1L900.2,847.4L897.2,847.7L894.2,848.1L891.2,848.5L888.1,848.9L885.1,849.4L882.1,849.8L879.1,850.4L876.1,850.9L873.1,851.5L870.2,852.2L867.2,852.8L864.2,853.5L861.3,854.3L858.4,855.1L855.4,855.9L852.5,856.7L849.6,857.7L846.8,858.6L843.9,859.6L841.1,860.6L838.2,861.7L835.4,862.9L832.6,864.0L829.9,865.3L827.2,866.5L824.4,867.8L821.7,869.2L819.1,870.6L816.4,872.1L813.8,873.5L811.2,875.1L808.7,876.7L806.1,878.3L803.6,879.9L801.2,881.7L798.7,883.4L796.3,885.2L793.9,887.0L791.6,888.9L789.2,890.8L787.0,892.7L784.7,894.7L782.5,896.7L780.3,898.8L778.2,900.8L776.0,903.0L774.0,905.1L771.9,907.3L769.9,909.6L768.0,911.8L766.1,914.1L764.2,916.4L762.3,918.8L760.5,921.2L758.8,923.6L757.1,926.1L755.4,928.5L753.8,931.0L752.2,933.6L750.7,936.1L749.2,938.7L747.8,941.4L746.4,944.0L745.1,946.7L743.8,949.4L742.5,952.1L741.3,954.9L740.2,957.6L739.1,960.4L738.1,963.3L737.1,966.1L736.2,969.0L735.3,971.9L734.5,974.8L733.7,977.7L733.0,980.7L732.4,983.6L731.8,986.6L731.3,989.6L730.8,992.7L730.4,995.7L730.0,998.8L729.8,1001.8L729.5,1004.9L729.4,1008.0L729.3,1011.1L729.2,1014.2L729.3,1017.3L729.4,1020.3L729.5,1023.4L729.7,1026.5L730.0,1029.6L730.4,1032.6L730.8,1035.6L731.3,1038.7L731.9,1041.6L732.5,1044.6L733.3,1047.6L734.0,1050.5L734.9,1053.4L735.8,1056.2L736.8,1059.0L737.9,1061.8L739.1,1064.6L740.3,1067.3L741.6,1069.9L743.0,1072.5L744.5,1075.1L746.0,1077.6L747.6,1080.1L749.3,1082.5L751.1,1084.8L752.9,1087.1L754.8,1089.4L756.8,1091.6L758.8,1093.7L760.9,1095.8L763.0,1097.9L765.2,1099.9L767.5,1101.9L769.7,1103.8L772.1,1105.7L774.4,1107.6L776.8,1109.4L779.3,1111.2L781.7,1112.9L784.2,1114.7L786.7,1116.3L789.2,1118.0L791.8,1119.6L794.3,1121.2L796.9,1122.7L799.5,1124.3L802.1,1125.8L804.7,1127.3L807.4,1128.7L810.0,1130.1L812.7,1131.6L815.4,1133.0L818.1,1134.3L820.8,1135.7L823.5,1137.1L826.2,1138.4L828.9,1139.7L831.6,1141.0L834.4,1142.4L837.1,1143.7L839.8,1145.0L842.6,1146.2L845.3,1147.5L848.1,1148.8L850.8,1150.1L853.6,1151.4L856.3,1152.7L859.1,1154.0L861.8,1155.3L864.6,1156.6L867.3,1157.9L870.1,1159.1L872.8,1160.4L875.6,1161.7L878.3,1162.9L881.1,1164.2L883.8,1165.4L886.6,1166.6L889.4,1167.8L892.2,1168.9L894.9,1170.0L897.7,1171.1L900.5,1172.2L903.4,1173.2L906.2,1174.2L909.0,1175.1L911.8,1176.0L914.7,1176.9L917.6,1177.7L920.4,1178.4L923.3,1179.1L926.2,1179.7L929.1,1180.3L932.1,1180.9L935.0,1181.3L938.0,1181.8L940.9,1182.1L943.9,1182.4L946.9,1182.7L949.8,1182.9L952.8,1183.1L955.8,1183.2L958.8,1183.2L961.9,1183.2L964.9,1183.2L967.9,1183.1L970.9,1183.0L973.9,1182.8L977.0,1182.6L980.0,1182.3L983.0,1182.0L986.0,1181.6L989.0,1181.2L992.0,1180.8L995.1,1180.3L998.1,1179.8L1001.1,1179.2L1004.0,1178.6L1007.0,1178.0L1010.0,1177.3L1013.0,1176.6L1015.9,1175.9L1018.9,1175.1L1021.8,1174.3L1024.7,1173.5L1027.6,1172.6L1030.5,1171.7L1033.4,1170.8L1036.3,1169.8L1039.1,1168.8L1041.9,1167.7L1044.8,1166.7L1047.5,1165.6L1050.3,1164.4L1053.1,1163.2L1055.8,1162.0L1058.5,1160.7L1061.2,1159.4L1063.9,1158.1L1066.5,1156.7L1069.1,1155.3L1071.7,1153.8L1074.3,1152.3L1076.8,1150.7L1079.3,1149.1L1081.8,1147.5L1084.2,1145.8L1086.6,1144.1L1089.0,1142.3L1091.4,1140.4L1093.7,1138.5L1096.0,1136.6L1098.2,1134.6L1100.5,1132.6L1102.6,1130.5L1104.8,1128.4L1106.9,1126.2L1108.9,1123.9L1111.0,1121.7L1112.9,1119.4L1114.9,1117.0L1116.8,1114.6L1118.6,1112.2L1120.4,1109.7L1122.2,1107.2L1123.9,1104.7L1125.6,1102.1L1127.2,1099.5L1128.8,1096.9L1130.3,1094.3L1131.7,1091.6L1133.1,1088.9L1134.5,1086.1L1135.8,1083.4L1137.0,1080.6L1138.2,1077.8L1139.4,1074.9L1140.4,1072.1L1141.5,1069.2L1142.4,1066.3L1143.3,1063.5L1144.1,1060.5L1144.9,1057.6L1145.6,1054.7L1146.2,1051.7L1146.8,1048.8L1147.3,1045.8L1147.8,1042.9L1148.1,1039.9L1148.4,1036.9L1148.6,1034.0L1148.8,1031.0L1148.9,1028.0L1148.9,1025.0L1148.8,1022.1L1148.7,1019.1L1148.5,1016.1L1148.2,1013.2L1147.8,1010.2L1147.3,1007.3L1146.8,1004.3L1146.2,1001.4L1145.5,998.5L1144.8,995.6L1144.0,992.8L1143.1,989.9L1142.1,987.0L1141.1,984.2L1140.1,981.4L1138.9,978.6L1137.7,975.9L1136.4,973.1L1135.1,970.4L1133.7,967.7L1132.3,965.0L1130.8,962.4L1129.2,959.8L1127.6,957.2L1126.0,954.6L1124.3,952.1L1122.5,949.6L1120.7,947.1L1118.9,944.7L1117.0,942.3L1115.1,940.0L1113.1,937.7L1111.1,935.4L1109.1,933.1L1107.0,931.0L1104.9,928.8L1102.7,926.7L1100.5,924.6L1098.3,922.6L1096.0,920.6L1093.7,918.7L1091.4,916.7L1089.1,914.9L1086.7,913.0L1084.3,911.2L1081.9,909.4L1079.4,907.7L1076.9,906.0L1074.4,904.3L1071.9,902.7L1069.4,901.1L1066.8,899.5L1064.2,898.0L1061.6,896.5L1059.0,895.0L1056.4,893.5L1053.7,892.1L1051.0,890.7L1048.3,889.3L1045.6,887.9L1042.9,886.6L1040.2,885.3L1037.5,884.0L1034.7,882.8L1032.0,881.6L1029.2,880.4L1026.4,879.2L1023.6,878.1L1020.8,877.0L1018.0,875.9L1015.2,874.9L1012.3,873.9L1009.5,872.9L1006.6,872.0L1003.7,871.1L1000.8,870.3L998.0,869.4L995.1,868.7L992.2,867.9L989.2,867.2L986.3,866.6L983.4,865.9L980.4,865.4L977.5,864.8L974.5,864.3L971.6,863.9L968.6,863.5L965.6,863.1L962.6,862.8L959.6,862.5L956.7,862.3L953.6,862.1L950.6,862.0L947.6,861.9L944.6,861.9L941.6,861.9L938.6,861.9L935.5,862.1L932.5,862.2L929.5,862.4L926.4,862.7L923.4,863.1L920.3,863.4" stroke-width="5.8"/>
<path d="M892.0,896.2C893.8,896.8 899.9,897.9 903.0,899.5C906.1,901.1 909.0,903.2 910.5,906.0C912.0,908.8 912.7,912.5 912.3,916.0C911.9,919.5 910.2,923.8 908.0,927.0C905.8,930.2 902.3,933.1 899.0,935.0C895.7,936.9 892.1,938.2 888.4,938.3C884.7,938.4 880.1,937.4 877.0,935.5C873.9,933.6 871.2,930.4 870.0,927.0C868.8,923.6 869.0,918.7 869.5,915.0C870.0,911.3 871.2,907.7 873.0,905.0C874.8,902.3 877.5,900.2 880.0,899.0C882.5,897.8 886.7,897.8 888.0,897.5" stroke-width="4.8"/>
<path d="M999.4,943.4 L1028.5,922.5 L1057.6,951.6 L1035.2,973.9 L999.4,943.4" stroke-width="5.5"/>
<path d="M817.5,979.1 L796.7,1017.9 L825.0,1021.5 L854.1,1026.1" stroke-width="5.2"/>
<path d="M820.5,988.1 L854.1,1026.1" stroke-width="5"/>
<path d="M939.0,1044.0 L942.8,1001.5 L964.0,1003.0 L985.2,1005.2 L988.2,1052.9" stroke-width="5.2"/>
<path d="M988.2,1052.9C986.2,1053.3 980.2,1055.2 976.0,1055.5C971.8,1055.8 967.2,1055.6 962.9,1054.8C958.6,1054.0 954.0,1052.3 950.0,1050.5C946.0,1048.7 940.8,1045.1 939.0,1044.0" stroke-width="5.2"/>
<path d="M905.5,1086.5 L945.0,1088.0" stroke-width="5.4"/>
<path d="M942.8,1089.4C943.2,1090.7 943.9,1094.1 945.0,1097.0C946.1,1099.9 947.8,1103.7 949.5,1106.6C951.2,1109.5 953.1,1112.3 955.0,1114.5C956.9,1116.7 959.8,1119.1 960.7,1120.0" stroke-width="5"/>
<path d="M903.3,1088.7 L880.2,1117.0 L915.0,1121.5 L949.5,1126.7" stroke-width="5.2"/>
<path d="M982.1,1066.8C982.0,1069.8 981.3,1078.7 981.3,1085.0C981.3,1091.3 982.0,1101.6 982.1,1104.9" stroke-width="4.4"/>
<path d="M982.1,1066.8C983.3,1066.4 986.6,1064.3 989.5,1064.3C992.4,1064.3 997.0,1065.4 999.5,1066.8C1002.0,1068.2 1003.9,1070.4 1004.4,1072.6C1004.9,1074.8 1004.7,1077.8 1002.8,1080.0C1000.9,1082.2 995.8,1084.3 992.8,1085.8C989.8,1087.3 986.0,1088.5 984.6,1089.1" stroke-width="4.4"/>
<path d="M1002.8,1075.9L1003.6,1090.8" stroke-width="4.4"/>
<path d="M1004.4,1084.2C1005.5,1083.5 1008.8,1080.8 1011.0,1080.0C1013.2,1079.2 1016.6,1079.3 1017.7,1079.2" stroke-width="4.4"/>
<path d="M1022.7,1074.2C1021.7,1075.5 1018.3,1079.2 1016.9,1081.7C1015.5,1084.2 1014.0,1087.2 1014.4,1089.1C1014.8,1091.0 1017.5,1093.0 1019.3,1093.3C1021.1,1093.6 1023.7,1092.5 1025.1,1090.8C1026.5,1089.1 1027.4,1085.6 1027.6,1083.3C1027.8,1081.0 1026.3,1077.8 1026.0,1076.7" stroke-width="4.4"/>
<path d="M1027.6,1080.0C1027.9,1080.7 1028.3,1082.0 1029.3,1084.2C1030.3,1086.4 1031.9,1091.2 1033.4,1093.3C1034.9,1095.4 1037.6,1096.0 1038.4,1096.6" stroke-width="4.4"/>
<path d="M1039.2,1074.2C1039.1,1076.0 1038.9,1081.5 1038.8,1085.0C1038.7,1088.5 1038.5,1093.2 1038.4,1094.9" stroke-width="4.4"/>
<path d="M1033.4,1064.3L1045.8,1065.9" stroke-width="4.4"/>
<path d="M1050.8,1083.3C1051.9,1082.6 1055.2,1080.3 1057.4,1079.2C1059.6,1078.1 1063.3,1077.5 1064.1,1076.7C1064.9,1075.9 1064.1,1074.6 1062.4,1074.2C1060.7,1073.8 1056.6,1073.2 1054.1,1074.2C1051.6,1075.2 1048.7,1077.5 1047.5,1080.0C1046.3,1082.5 1046.2,1086.5 1046.7,1089.1C1047.2,1091.7 1049.0,1094.4 1050.8,1095.8C1052.6,1097.2 1055.1,1097.4 1057.4,1097.4C1059.8,1097.4 1063.7,1096.1 1064.9,1095.8" stroke-width="4.4"/>
<path d="M1072.3,1076.7C1071.5,1077.2 1068.6,1078.2 1067.4,1080.0C1066.2,1081.8 1064.8,1085.2 1064.9,1087.5C1065.0,1089.8 1066.4,1092.4 1068.2,1094.1C1070.0,1095.8 1072.8,1097.7 1075.7,1097.4C1078.6,1097.1 1083.9,1093.2 1085.6,1092.4" stroke-width="4.4"/>
<path d="M1093.1,1065.1C1092.1,1066.3 1088.8,1069.7 1087.3,1072.6C1085.8,1075.5 1083.8,1079.5 1083.9,1082.5C1084.0,1085.5 1086.2,1089.0 1088.1,1090.8C1090.0,1092.6 1093.2,1093.0 1095.5,1093.3C1097.8,1093.6 1101.1,1092.6 1102.2,1092.4" stroke-width="4.4"/>
<path d="M1071.5,1078.4C1073.6,1078.2 1079.6,1077.7 1083.9,1077.5C1088.2,1077.3 1095.0,1077.5 1097.2,1077.5" stroke-width="4.4"/>
<path d="M1115.4,1072.6C1114.7,1071.9 1113.5,1069.0 1111.3,1068.4C1109.1,1067.9 1104.1,1068.6 1102.2,1069.3C1100.3,1070.0 1098.9,1071.4 1099.7,1072.6C1100.5,1073.8 1104.3,1075.0 1107.1,1076.7C1109.8,1078.4 1115.7,1080.7 1116.2,1082.5C1116.8,1084.3 1112.5,1086.2 1110.4,1087.5C1108.3,1088.8 1103.8,1089.3 1103.8,1090.0C1103.8,1090.7 1109.3,1091.3 1110.4,1091.6" stroke-width="4.4"/>
<path d="M949.0,1199.0C949.2,1207.5 949.9,1233.2 950.0,1250.0C950.1,1266.8 949.7,1284.5 949.5,1300.0C949.3,1315.5 949.1,1335.8 949.0,1343.0" stroke-width="5.5"/>
<path d="M922.0,1315.0C923.7,1318.0 927.8,1327.8 932.0,1333.0C936.2,1338.2 942.2,1345.2 947.0,1346.0C951.8,1346.8 956.5,1341.2 961.0,1338.0C965.5,1334.8 971.8,1328.8 974.0,1327.0" stroke-width="6"/>
<path d="M894.8,1378.6C893.6,1378.9 889.6,1378.6 887.5,1380.7C885.4,1382.8 883.1,1386.4 882.4,1391.1C881.7,1395.8 881.8,1404.4 883.4,1408.7C885.0,1413.0 888.8,1415.7 891.7,1416.9C894.6,1418.1 898.4,1417.8 901.0,1415.9C903.6,1414.0 905.8,1409.5 907.2,1405.5C908.6,1401.5 909.6,1396.2 909.3,1392.1C908.9,1388.0 907.0,1383.5 905.1,1380.7C903.2,1377.9 899.1,1376.0 897.9,1375.0" stroke-width="4.8"/>
<path d="M916.5,1381.7C915.8,1383.6 912.9,1389.1 912.4,1393.1C911.9,1397.1 912.2,1402.6 913.4,1405.5C914.6,1408.4 917.2,1410.7 919.6,1410.7C922.0,1410.7 925.6,1408.8 927.9,1405.5C930.1,1402.2 932.2,1394.9 933.1,1391.1C934.0,1387.3 933.1,1384.2 933.1,1382.8" stroke-width="4.8"/>
<path d="M933.1,1391.0C933.3,1392.7 932.9,1399.0 934.1,1401.4C935.3,1403.8 939.3,1404.8 940.3,1405.5" stroke-width="4.8"/>
<path d="M951.7,1366.2C950.8,1367.8 947.5,1371.3 946.5,1375.5C945.5,1379.7 945.5,1385.9 945.5,1391.1C945.5,1396.3 945.1,1402.8 946.5,1406.6C947.9,1410.4 950.7,1412.8 953.8,1413.8C956.9,1414.8 962.3,1413.6 965.2,1412.8C968.1,1412.0 970.4,1409.4 971.4,1408.7" stroke-width="4.8"/>
<path d="M936.2,1378.6L965.2,1378.6" stroke-width="4.8"/>
<path d="M971.4,1380.7C971.9,1383.3 973.5,1391.0 974.5,1396.2C975.5,1401.4 976.4,1405.9 977.6,1411.8C978.8,1417.7 981.0,1428.1 981.7,1431.4" stroke-width="4.8"/>
<path d="M971.4,1380.7C972.2,1380.0 973.8,1377.3 976.5,1376.6C979.2,1375.9 984.9,1375.9 987.9,1376.6C990.9,1377.3 993.3,1379.0 994.2,1380.7C995.1,1382.4 994.5,1384.7 993.1,1386.9C991.7,1389.2 988.5,1391.6 985.9,1394.2C983.3,1396.8 979.0,1401.0 977.6,1402.4" stroke-width="4.8"/>
<path d="M998.3,1384.8C997.8,1387.2 994.9,1394.8 995.2,1399.3C995.6,1403.8 998.3,1409.2 1000.4,1411.8C1002.5,1414.4 1005.2,1415.2 1007.6,1414.9C1010.0,1414.6 1013.0,1412.8 1014.9,1409.7C1016.8,1406.6 1018.3,1400.5 1019.0,1396.2C1019.7,1391.9 1019.0,1385.9 1019.0,1383.8" stroke-width="4.8"/>
<path d="M1019.0,1383.8C1019.2,1386.7 1019.3,1396.4 1020.0,1401.4C1020.7,1406.4 1022.6,1411.7 1023.1,1413.8" stroke-width="4.8"/>
<path d="M1035.6,1374.5C1034.4,1375.9 1030.0,1379.2 1028.3,1382.8C1026.6,1386.4 1025.4,1391.4 1025.2,1396.2C1025.0,1401.0 1025.4,1408.2 1027.3,1411.8C1029.2,1415.4 1033.1,1417.2 1036.6,1418.0C1040.0,1418.8 1044.4,1417.8 1048.0,1416.9C1051.6,1416.0 1056.6,1413.5 1058.3,1412.8" stroke-width="4.8"/>
<path d="M1019.0,1388.0C1021.2,1388.2 1027.7,1388.7 1032.5,1389.0C1037.3,1389.3 1045.4,1389.8 1048.0,1390.0" stroke-width="4.8"/>
<path d="M652.3,1344.5L651.0,1349.5" stroke-width="2.5"/>
<path d="M1111.8,116.0L1114.9,115.9L1117.9,115.7L1120.9,115.6L1124.0,115.5L1127.0,115.4L1130.0,115.4L1133.1,115.3L1136.1,115.3L1139.1,115.3L1142.1,115.3L1145.2,115.3L1148.2,115.3L1151.2,115.4L1154.2,115.5L1157.2,115.5L1160.2,115.6L1163.2,115.7L1166.2,115.9L1169.2,116.0L1172.2,116.2L1175.2,116.3L1178.2,116.5L1181.2,116.7L1184.2,116.9L1187.2,117.2L1190.2,117.4L1193.2,117.7L1196.2,117.9L1199.2,118.2L1202.1,118.5L1205.1,118.8L1208.1,119.1L1211.1,119.4L1214.0,119.8L1217.0,120.1L1220.0,120.5L1223.0,120.9L1225.9,121.3L1228.9,121.7L1231.9,122.1L1234.8,122.5L1237.8,122.9L1240.8,123.4L1243.7,123.8L1246.7,124.3L1249.6,124.8L1252.6,125.2L1255.6,125.7L1258.5,126.2L1261.5,126.7L1264.4,127.3L1267.4,127.8L1270.3,128.3L1273.3,128.9L1276.2,129.4L1279.2,130.0L1282.1,130.5L1285.1,131.1L1288.0,131.7L1291.0,132.3L1293.9,132.9L1296.9,133.5L1299.8,134.1L1302.7,134.7L1305.7,135.3L1308.6,136.0L1311.6,136.6L1314.5,137.2L1317.5,137.9L1320.4,138.5L1323.3,139.2L1326.3,139.8L1329.2,140.5L1332.2,141.2L1335.1,141.9L1338.1,142.5L1341.0,143.2L1343.9,143.9L1346.9,144.6L1349.8,145.3L1352.7,146.0L1355.7,146.8L1358.6,147.5L1361.5,148.2L1364.5,149.0L1367.4,149.7L1370.3,150.5L1373.2,151.2L1376.2,152.0L1379.1,152.8L1382.0,153.6L1384.9,154.4L1387.8,155.2L1390.7,156.0L1393.6,156.9L1396.5,157.7L1399.4,158.6L1402.3,159.4L1405.2,160.3L1408.1,161.2L1410.9,162.1L1413.8,163.0L1416.7,163.9L1419.5,164.8L1422.4,165.8L1425.2,166.7L1428.1,167.7L1430.9,168.7L1433.8,169.7L1436.6,170.7L1439.4,171.7L1442.3,172.8L1445.1,173.8L1447.9,174.9L1450.7,176.0L1453.5,177.1L1456.3,178.2L1459.0,179.3L1461.8,180.4L1464.6,181.6L1467.3,182.8L1470.1,184.0L1472.8,185.2L1475.6,186.4L1478.3,187.6L1481.0,188.9L1483.7,190.2L1486.4,191.5L1489.1,192.8L1491.8,194.1L1494.5,195.5L1497.2,196.8L1499.8,198.2L1502.5,199.6L1505.1,201.0L1507.7,202.5L1510.4,203.9L1513.0,205.4L1515.6,206.9L1518.2,208.4L1520.8,209.9L1523.4,211.4L1525.9,213.0L1528.5,214.5L1531.0,216.1L1533.6,217.7L1536.1,219.4L1538.6,221.0L1541.1,222.6L1543.6,224.3L1546.1,226.0L1548.6,227.7L1551.1,229.4L1553.5,231.1L1556.0,232.9L1558.4,234.6L1560.9,236.4L1563.3,238.2L1565.7,240.0L1568.1,241.8L1570.5,243.6L1572.8,245.5L1575.2,247.3L1577.6,249.2L1579.9,251.1L1582.2,253.0L1584.6,254.9L1586.9,256.9L1589.2,258.8L1591.5,260.8L1593.7,262.7L1596.0,264.7L1598.3,266.7L1600.5,268.7L1602.7,270.8L1605.0,272.8L1607.2,274.8L1609.4,276.9L1611.5,279.0L1613.7,281.1L1615.9,283.2L1618.0,285.3L1620.2,287.4L1622.3,289.6L1624.4,291.7L1626.5,293.9L1628.6,296.1L1630.6,298.3L1632.7,300.5L1634.8,302.7L1636.8,304.9L1638.8,307.1L1640.8,309.4L1642.8,311.6L1644.8,313.9L1646.8,316.2L1648.7,318.5L1650.7,320.8L1652.6,323.1L1654.5,325.4L1656.4,327.8L1658.3,330.1L1660.2,332.5L1662.1,334.8L1663.9,337.2L1665.7,339.6L1667.6,342.0L1669.4,344.4L1671.2,346.8L1673.0,349.2L1674.7,351.7L1676.5,354.1L1678.2,356.6L1679.9,359.0L1681.6,361.5L1683.3,364.0L1685.0,366.5L1686.7,369.0L1688.3,371.5L1690.0,374.0L1691.6,376.5L1693.2,379.1L1694.8,381.6L1696.4,384.2L1697.9,386.7L1699.5,389.3L1701.0,391.9L1702.5,394.4L1704.0,397.0L1705.5,399.6L1707.0,402.2L1708.4,404.9L1709.9,407.5L1711.3,410.1L1712.7,412.7L1714.2,415.4L1715.6,418.0L1717.0,420.7L1718.4,423.3L1719.7,426.0L1721.1,428.6L1722.5,431.3L1723.9,433.9L1725.2,436.6L1726.6,439.3L1728.0,442.0L1729.3,444.6L1730.7,447.3L1732.1,450.0L1733.4,452.7L1734.8,455.4L1736.2,458.1L1737.5,460.8L1738.9,463.4L1740.2,466.1L1741.6,468.8L1742.9,471.5L1744.3,474.2L1745.6,476.9L1747.0,479.7L1748.3,482.4L1749.6,485.1L1750.9,487.8L1752.2,490.5L1753.5,493.3L1754.7,496.0L1756.0,498.8L1757.2,501.5L1758.5,504.3L1759.7,507.0L1760.9,509.8L1762.1,512.5L1763.2,515.3L1764.4,518.1L1765.5,520.9L1766.6,523.7L1767.7,526.5L1768.8,529.3L1769.9,532.1L1770.9,534.9L1772.0,537.7L1773.0,540.5L1774.0,543.3L1775.0,546.2L1776.0,549.0L1777.0,551.9L1777.9,554.7L1778.8,557.5L1779.8,560.4L1780.7,563.3L1781.5,566.1L1782.4,569.0L1783.3,571.9L1784.1,574.7L1784.9,577.6L1785.7,580.5L1786.5,583.4L1787.3,586.3L1788.1,589.2L1788.8,592.1L1789.6,595.0L1790.3,597.9L1791.0,600.8L1791.7,603.7L1792.3,606.7L1793.0,609.6L1793.6,612.5L1794.3,615.5L1794.9,618.4L1795.5,621.3L1796.0,624.3L1796.6,627.2L1797.2,630.2L1797.7,633.1L1798.2,636.1L1798.7,639.0L1799.2,642.0L1799.7,645.0L1800.1,647.9L1800.6,650.9L1801.0,653.9L1801.4,656.9L1801.8,659.8L1802.2,662.8L1802.6,665.8L1803.0,668.8L1803.3,671.8L1803.6,674.8L1803.9,677.7L1804.2,680.7L1804.5,683.7L1804.8,686.7L1805.0,689.7L1805.3,692.7L1805.5,695.7L1805.7,698.7L1805.9,701.8L1806.1,704.8L1806.3,707.8L1806.4,710.8L1806.5,713.8L1806.7,716.8L1806.8,719.8L1806.9,722.8L1807.0,725.8L1807.0,728.9L1807.1,731.9L1807.1,734.9L1807.1,737.9L1807.1,740.9L1807.1,743.9L1807.1,747.0L1807.1,750.0L1807.0,753.0L1807.0,756.0L1806.9,759.0L1806.8,762.0L1806.7,765.1L1806.5,768.1L1806.4,771.1L1806.3,774.1L1806.1,777.1L1805.9,780.1L1805.7,783.2L1805.5,786.2L1805.3,789.2L1805.1,792.2L1804.8,795.2L1804.6,798.2L1804.3,801.2L1804.0,804.2L1803.7,807.2L1803.4,810.2L1803.0,813.2L1802.7,816.2L1802.3,819.2L1801.9,822.2L1801.6,825.2L1801.2,828.2L1800.7,831.2L1800.3,834.2L1799.9,837.2L1799.4,840.1L1798.9,843.1L1798.4,846.1L1797.9,849.1L1797.4,852.1L1796.9,855.0L1796.4,858.0L1795.8,861.0L1795.2,863.9L1794.7,866.9L1794.1,869.8L1793.5,872.8L1792.8,875.7L1792.2,878.7L1791.5,881.6L1790.9,884.5L1790.2,887.5L1789.5,890.4L1788.8,893.3L1788.1,896.3L1787.4,899.2L1786.6,902.1L1785.9,905.0L1785.1,907.9L1784.3,910.8L1783.5,913.7L1782.7,916.6L1781.9,919.5L1781.0,922.4L1780.2,925.2L1779.3,928.1L1778.4,931.0L1777.6,933.8L1776.6,936.7L1775.7,939.5L1774.8,942.4L1773.9,945.2L1772.9,948.1L1771.9,950.9L1770.9,953.7L1769.9,956.6L1768.9,959.4L1767.9,962.2L1766.9,965.0L1765.8,967.8L1764.8,970.6L1763.7,973.4L1762.6,976.2L1761.5,978.9L1760.4,981.7L1759.3,984.5L1758.2,987.2L1757.1,990.0L1755.9,992.8L1754.7,995.5L1753.6,998.3L1752.4,1001.0L1751.2,1003.7L1750.0,1006.5L1748.8,1009.2L1747.6,1011.9L1746.3,1014.7L1745.1,1017.4L1743.8,1020.1L1742.6,1022.8L1741.3,1025.5L1740.0,1028.2L1738.7,1030.9L1737.4,1033.6L1736.1,1036.3L1734.8,1039.0L1733.5,1041.7L1732.2,1044.4L1730.8,1047.0L1729.5,1049.7L1728.1,1052.4L1726.7,1055.1L1725.4,1057.7L1724.0,1060.4L1722.6,1063.0L1721.2,1065.7L1719.8,1068.3L1718.4,1071.0L1717.0,1073.6L1715.6,1076.3L1714.1,1078.9L1712.7,1081.6L1711.3,1084.2L1709.8,1086.8L1708.3,1089.5L1706.9,1092.1L1705.4,1094.7L1704.0,1097.3L1702.5,1100.0L1701.0,1102.6L1699.5,1105.2L1698.0,1107.8L1696.5,1110.4L1695.0,1113.0L1693.5,1115.6L1692.0,1118.2L1690.5,1120.8L1688.9,1123.4L1687.4,1126.0L1685.9,1128.6L1684.4,1131.2L1682.8,1133.8L1681.3,1136.4L1679.7,1139.0L1678.2,1141.6L1676.6,1144.2L1675.1,1146.8L1673.5,1149.4L1672.0,1152.0L1670.4,1154.5L1668.8,1157.1L1667.3,1159.7L1665.7,1162.3L1664.1,1164.9L1662.6,1167.4L1661.0,1170.0L1659.4,1172.6L1657.8,1175.2L1656.2,1177.8L1654.7,1180.3L1653.1,1182.9L1651.5,1185.5L1649.9,1188.1L1648.3,1190.6L1646.7,1193.2L1645.1,1195.8L1643.6,1198.3L1642.0,1200.9L1640.4,1203.5L1638.8,1206.1L1637.2,1208.6L1635.6,1211.2L1634.0,1213.8L1632.4,1216.4L1630.9,1218.9L1629.3,1221.5L1627.7,1224.1L1626.1,1226.6L1624.5,1229.2L1623.0,1231.8L1621.4,1234.4L1619.8,1236.9L1618.2,1239.5L1616.6,1242.1L1615.1,1244.7L1613.5,1247.3L1611.9,1249.8L1610.4,1252.4L1608.8,1255.0L1607.3,1257.6L1605.7,1260.2L1604.1,1262.7L1602.6,1265.3L1601.1,1267.9L1599.5,1270.5L1598.0,1273.1L1596.4,1275.7L1594.9,1278.3L1593.4,1280.9L1591.9,1283.5L1590.3,1286.1L1588.8,1288.7L1587.3,1291.3L1585.8,1293.9L1584.3,1296.5L1582.8,1299.1L1581.3,1301.7L1579.8,1304.3L1578.3,1306.9L1576.8,1309.5L1575.3,1312.1L1573.9,1314.7L1572.4,1317.3L1570.9,1319.9L1569.4,1322.5L1567.9,1325.1L1566.4,1327.7L1564.9,1330.3L1563.4,1332.9L1561.8,1335.4L1560.3,1338.0L1558.8,1340.6L1557.2,1343.1L1555.7,1345.7L1554.1,1348.2L1552.5,1350.8L1550.9,1353.3L1549.3,1355.8L1547.7,1358.3L1546.1,1360.8L1544.5,1363.3L1542.8,1365.8L1541.1,1368.2L1539.5,1370.7L1537.7,1373.1L1536.0,1375.6L1534.3,1378.0L1532.5,1380.4L1530.7,1382.8L1528.9,1385.2L1527.1,1387.5L1525.3,1389.9L1523.4,1392.2L1521.6,1394.6L1519.7,1396.9L1517.8,1399.2L1515.9,1401.5L1513.9,1403.7L1512.0,1406.0L1510.0,1408.3L1508.0,1410.5L1506.0,1412.7L1504.0,1414.9L1502.0,1417.1L1500.0,1419.3L1497.9,1421.5L1495.8,1423.6L1493.7,1425.8L1491.6,1427.9L1489.5,1430.0L1487.4,1432.2L1485.2,1434.2L1483.0,1436.3L1480.9,1438.4L1478.7,1440.4L1476.5,1442.5L1474.2,1444.5L1472.0,1446.5L1469.8,1448.5L1467.5,1450.5L1465.2,1452.5L1462.9,1454.4L1460.6,1456.4L1458.3,1458.3L1456.0,1460.2L1453.6,1462.1L1451.3,1464.0L1448.9,1465.9L1446.6,1467.8L1444.2,1469.6L1441.8,1471.5L1439.3,1473.3L1436.9,1475.1L1434.5,1476.9L1432.0,1478.7L1429.6,1480.4L1427.1,1482.2L1424.6,1483.9L1422.1,1485.6L1419.6,1487.3L1417.1,1489.0L1414.6,1490.7L1412.1,1492.4L1409.5,1494.0L1407.0,1495.7L1404.4,1497.3L1401.8,1498.9L1399.2,1500.5L1396.7,1502.0L1394.1,1503.6L1391.4,1505.1L1388.8,1506.6L1386.2,1508.1L1383.5,1509.6L1380.9,1511.1L1378.2,1512.5L1375.6,1514.0L1372.9,1515.4L1370.2,1516.8L1367.5,1518.2L1364.8,1519.5L1362.1,1520.9L1359.4,1522.2L1356.6,1523.5L1353.9,1524.8L1351.2,1526.1L1348.4,1527.3L1345.7,1528.6L1342.9,1529.8L1340.1,1531.0L1337.3,1532.2L1334.6,1533.3L1331.8,1534.5L1329.0,1535.6L1326.1,1536.7L1323.3,1537.8L1320.5,1538.9L1317.7,1539.9L1314.8,1540.9L1312.0,1541.9L1309.2,1542.9L1306.3,1543.9L1303.4,1544.8L1300.6,1545.7L1297.7,1546.6L1294.8,1547.5L1291.9,1548.4L1289.1,1549.2L1286.2,1550.0L1283.3,1550.8L1280.4,1551.6L1277.5,1552.4L1274.5,1553.1L1271.6,1553.8L1268.7,1554.5L1265.8,1555.1L1262.8,1555.8L1259.9,1556.4L1257.0,1557.0L1254.0,1557.6L1251.1,1558.1L1248.1,1558.7L1245.2,1559.2L1242.2,1559.6L1239.3,1560.1L1236.3,1560.5L1233.3,1560.9L1230.3,1561.3L1227.4,1561.7L1224.4,1562.0L1221.4,1562.4L1218.4,1562.6L1215.4,1562.9L1212.5,1563.1L1209.5,1563.4L1206.5,1563.6L1203.5,1563.7L1200.5,1563.9L1197.5,1564.0L1194.5,1564.1L1191.5,1564.1L1188.5,1564.2L1185.5,1564.2L1182.5,1564.2L1179.5,1564.1L1176.4,1564.1L1173.4,1564.0L1170.4,1563.9L1167.4,1563.7L1164.4,1563.5L1161.4,1563.3L1158.4,1563.1L1155.4,1562.8L1152.4,1562.5L1149.4,1562.2L1146.4,1561.9L1143.4,1561.5L1140.4,1561.0L1137.5,1560.6L1134.5,1560.1L1131.6,1559.5L1128.6,1559.0L1125.7,1558.4L1122.8,1557.7L1119.9,1557.0L1117.0,1556.3L1114.1,1555.5L1111.2,1554.7L1108.4,1553.9L1105.6,1553.0L1102.7,1552.0L1099.9,1551.0L1097.2,1550.0L1094.4,1548.9L1091.7,1547.8L1088.9,1546.6L1086.2,1545.4L1083.6,1544.1L1080.9,1542.8L1078.3,1541.4L1075.7,1540.0L1073.1,1538.5L1070.5,1537.0L1068.0,1535.4L1065.5,1533.8L1063.0,1532.1L1060.6,1530.3L1058.2,1528.5L1055.8,1526.6L1053.4,1524.7L1051.1,1522.8L1048.8,1520.7L1046.5,1518.7L1044.3,1516.6L1042.1,1514.4L1039.9,1512.2L1037.7,1510.0L1035.5,1507.8L1033.4,1505.6L1031.3,1503.3L1029.2,1501.0L1027.1,1498.7L1025.1,1496.4L1023.0,1494.1L1021.0,1491.8L1019.0,1489.5L1017.0,1487.3L1015.0,1485.0L1013.0,1482.7L1011.0,1480.5L1009.0,1478.3L1007.1,1476.1" stroke-width="5.0"/>
<path d="M1093.2,127.0C1096.8,124.7 1107.9,117.3 1115.0,113.0C1122.1,108.7 1132.2,103.2 1135.6,101.2" stroke-width="7"/>
<path d="M1105.1,123.1C1107.1,124.8 1113.1,129.7 1117.0,133.0C1120.9,136.3 1126.4,141.2 1128.3,142.9" stroke-width="5"/>
<path d="M1840.3,735.2C1843.0,735.3 1851.4,735.2 1856.8,736.0C1862.2,736.8 1870.0,739.5 1872.6,740.2" stroke-width="4.6"/>
<path d="M1854.4,741.8L1855.2,761.7" stroke-width="4.6"/>
<path d="M1861.8,746.0C1861.9,747.9 1863.4,753.8 1862.6,757.5C1861.8,761.2 1857.8,766.5 1856.8,768.3" stroke-width="4.6"/>
<path d="M1837.8,770.8L1866.0,770.8" stroke-width="4.6"/>
<path d="M1882.5,733.5C1881.7,735.2 1878.3,738.8 1877.5,743.5C1876.7,748.2 1876.8,756.7 1877.5,761.7C1878.2,766.7 1879.6,770.8 1881.7,773.3C1883.8,775.8 1885.9,776.2 1890.0,776.6C1894.1,777.0 1901.0,776.3 1906.5,775.8C1912.0,775.2 1918.3,774.4 1923.1,773.3C1927.9,772.2 1933.4,769.8 1935.5,769.1" stroke-width="4.6"/>
<path d="M1914.8,738.5C1913.2,737.8 1908.1,734.8 1904.9,734.4C1901.7,734.0 1897.5,734.2 1895.8,736.0C1894.1,737.8 1894.8,741.9 1894.9,745.1C1895.0,748.3 1894.9,752.8 1896.6,755.1C1898.3,757.5 1899.7,758.4 1904.9,759.2C1910.2,760.0 1924.2,759.9 1928.1,760.0" stroke-width="4.6"/>
<path d="M1943.8,723.6C1943.0,724.4 1939.9,725.7 1938.8,728.6C1937.7,731.5 1937.2,736.5 1937.2,741.0C1937.2,745.5 1937.7,751.9 1938.8,755.9C1939.9,759.9 1942.3,762.6 1943.8,765.0C1945.3,767.4 1945.8,768.6 1947.9,770.0C1950.0,771.4 1952.9,772.8 1956.2,773.3C1959.5,773.8 1964.8,772.2 1967.8,773.3C1970.8,774.4 1973.2,777.0 1974.4,779.9C1975.7,782.8 1975.8,787.0 1975.3,790.7C1974.8,794.4 1971.8,800.4 1971.1,802.3" stroke-width="4.6"/>
<path d="M1950.4,750.1L1943.8,754.2" stroke-width="4.6"/>
<path d="M1947.9,761.7L1943.0,760.0" stroke-width="4.6"/>
<path d="M1962.0,726.9C1961.2,730.4 1958.7,741.2 1957.0,748.0C1955.3,754.8 1952.9,764.2 1952.1,767.5" stroke-width="4.6"/>
<path d="M1968.6,736.0C1968.0,738.7 1966.1,746.6 1965.0,752.0C1963.9,757.4 1962.5,765.6 1962.0,768.3" stroke-width="4.6"/>
<path d="M1972.8,743.5C1973.9,742.7 1977.8,738.2 1979.4,738.5C1981.1,738.8 1982.6,742.6 1982.7,745.1C1982.8,747.6 1981.6,750.8 1980.2,753.4C1978.8,756.0 1975.4,759.6 1974.4,760.9" stroke-width="4.6"/>
<ellipse cx="979.5" cy="154.5" rx="8.5" ry="10.5" stroke-width="5.5"/>
<ellipse cx="478.6" cy="123" rx="5.5" ry="6.5" stroke-width="4.6"/>
<ellipse cx="538.9" cy="152.8" rx="9.5" ry="5.3" stroke-width="4.6"/>
<ellipse cx="1058.5" cy="360.6" rx="9" ry="6" stroke-width="4.4"/>
</g>
</svg>
</body></html>
